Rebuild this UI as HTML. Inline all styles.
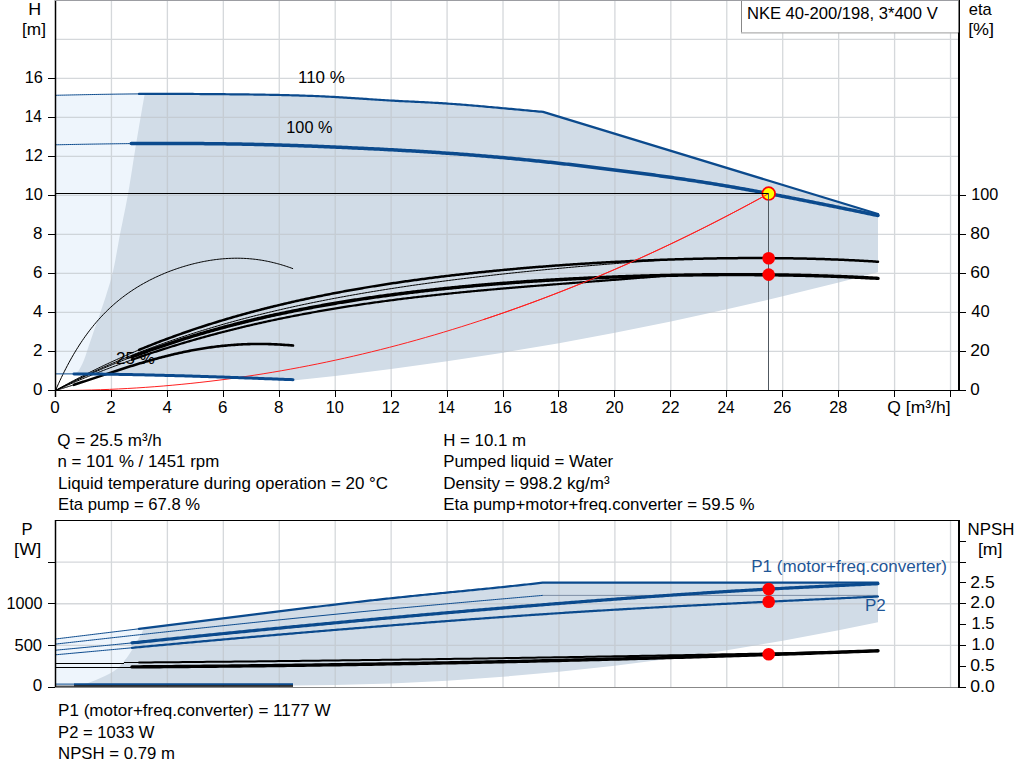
<!DOCTYPE html>
<html><head><meta charset="utf-8"><style>
html,body{margin:0;padding:0;background:#fff;width:1024px;height:781px;overflow:hidden}
svg{display:block}
</style></head><body>
<svg width="1024" height="781" viewBox="0 0 1024 781">
<rect width="1024" height="781" fill="#fff"/>
<path d="M55.50,95.30 L55.50,95.30 L57.47,95.26 L59.44,95.21 L61.41,95.17 L63.38,95.13 L65.34,95.08 L67.31,95.04 L69.28,95.00 L71.25,94.96 L73.22,94.91 L75.19,94.87 L77.16,94.83 L79.12,94.79 L81.09,94.75 L83.06,94.71 L85.03,94.67 L87.00,94.63 L88.97,94.59 L90.94,94.55 L92.91,94.52 L94.88,94.48 L96.84,94.44 L98.81,94.41 L100.78,94.37 L102.75,94.34 L104.72,94.31 L106.69,94.28 L108.66,94.24 L110.62,94.21 L112.59,94.18 L114.56,94.16 L116.53,94.13 L118.50,94.10 L120.47,94.08 L122.44,94.05 L124.41,94.03 L126.38,94.01 L128.34,93.99 L130.31,93.97 L132.28,93.95 L134.25,93.93 L136.22,93.92 L138.19,93.91 L140.16,93.89 L142.12,93.88 L144.09,93.87 L146.06,93.86 L148.03,93.86 L150.00,93.85 L150.00,374.00 L55.50,374.00 Z" fill="#eef5fc"/>
<path d="M144.50,93.87 L146.49,93.86 L148.49,93.86 L150.48,93.85 L152.47,93.85 L154.47,93.84 L156.46,93.84 L158.45,93.84 L160.44,93.84 L162.44,93.84 L164.43,93.85 L166.42,93.85 L168.42,93.85 L170.41,93.86 L172.40,93.87 L174.40,93.87 L176.39,93.88 L178.38,93.89 L180.37,93.90 L182.37,93.91 L184.36,93.92 L186.35,93.93 L188.35,93.94 L190.34,93.96 L192.33,93.97 L194.32,93.98 L196.32,94.00 L198.31,94.01 L200.30,94.03 L202.30,94.04 L204.29,94.06 L206.28,94.07 L208.28,94.09 L210.27,94.10 L212.26,94.12 L214.25,94.13 L216.25,94.15 L218.24,94.17 L220.23,94.18 L222.23,94.20 L224.22,94.22 L226.21,94.24 L228.21,94.25 L230.20,94.27 L232.19,94.29 L234.19,94.31 L236.18,94.33 L238.17,94.35 L240.16,94.37 L242.16,94.40 L244.15,94.42 L246.14,94.44 L248.14,94.47 L250.13,94.49 L252.12,94.52 L254.12,94.55 L256.11,94.57 L258.10,94.60 L260.09,94.63 L262.09,94.66 L264.08,94.70 L266.07,94.73 L268.07,94.76 L270.06,94.80 L272.05,94.84 L274.05,94.88 L276.04,94.92 L278.03,94.96 L280.02,95.00 L282.02,95.04 L284.01,95.09 L286.00,95.14 L288.00,95.19 L289.99,95.24 L291.98,95.29 L293.98,95.35 L295.97,95.40 L297.96,95.46 L299.95,95.52 L301.95,95.58 L303.94,95.65 L305.93,95.72 L307.93,95.79 L309.92,95.86 L311.91,95.93 L313.90,96.01 L315.90,96.09 L317.89,96.17 L319.88,96.26 L321.88,96.34 L323.87,96.44 L325.86,96.53 L327.86,96.63 L329.85,96.73 L331.84,96.83 L333.84,96.94 L335.83,97.05 L337.82,97.16 L339.81,97.28 L341.81,97.39 L343.80,97.52 L345.79,97.64 L347.79,97.77 L349.78,97.89 L351.77,98.02 L353.76,98.15 L355.76,98.29 L357.75,98.42 L359.74,98.55 L361.74,98.69 L363.73,98.82 L365.72,98.95 L367.72,99.09 L369.71,99.22 L371.70,99.35 L373.70,99.49 L375.69,99.62 L377.68,99.75 L379.67,99.87 L381.67,100.00 L383.66,100.12 L385.65,100.24 L387.65,100.36 L389.64,100.48 L391.63,100.59 L393.62,100.70 L395.62,100.81 L397.61,100.91 L399.60,101.02 L401.60,101.12 L403.59,101.22 L405.58,101.32 L407.58,101.41 L409.57,101.51 L411.56,101.61 L413.56,101.70 L415.55,101.80 L417.54,101.90 L419.53,102.00 L421.53,102.09 L423.52,102.19 L425.51,102.29 L427.51,102.40 L429.50,102.50 L431.49,102.61 L433.49,102.72 L435.48,102.83 L437.47,102.95 L439.46,103.07 L441.46,103.19 L443.45,103.32 L445.44,103.45 L447.44,103.58 L449.43,103.72 L451.42,103.86 L453.42,104.00 L455.41,104.15 L457.40,104.30 L459.39,104.45 L461.39,104.60 L463.38,104.76 L465.37,104.92 L467.37,105.08 L469.36,105.24 L471.35,105.41 L473.35,105.58 L475.34,105.75 L477.33,105.92 L479.32,106.09 L481.32,106.26 L483.31,106.44 L485.30,106.61 L487.30,106.79 L489.29,106.97 L491.28,107.15 L493.28,107.33 L495.27,107.51 L497.26,107.69 L499.25,107.88 L501.25,108.06 L503.24,108.24 L505.23,108.42 L507.23,108.61 L509.22,108.79 L511.21,108.97 L513.21,109.15 L515.20,109.34 L517.19,109.52 L519.18,109.70 L521.18,109.89 L523.17,110.07 L525.16,110.25 L527.16,110.43 L529.15,110.62 L531.14,110.80 L533.13,110.98 L535.13,111.17 L537.12,111.35 L539.11,111.53 L541.11,111.72 L543.10,111.90 L878.00,214.00 L878.00,272.13 L878.00,272.13 L838.66,282.44 L782.72,296.34 L726.78,309.36 L670.84,321.51 L614.90,332.77 L558.96,343.15 L503.02,352.66 L447.08,361.28 L391.14,369.02 L335.20,375.88 L293.00,380.48 L293.00,379.70 L291.01,379.62 L289.02,379.55 L287.03,379.47 L285.04,379.39 L283.05,379.32 L281.05,379.24 L279.06,379.16 L277.07,379.09 L275.08,379.01 L273.09,378.93 L271.10,378.86 L269.11,378.78 L267.12,378.70 L265.13,378.63 L263.14,378.55 L261.15,378.48 L259.15,378.40 L257.16,378.33 L255.17,378.25 L253.18,378.18 L251.19,378.11 L249.20,378.03 L247.21,377.96 L245.22,377.89 L243.23,377.81 L241.24,377.74 L239.25,377.67 L237.25,377.60 L235.26,377.53 L233.27,377.46 L231.28,377.39 L229.29,377.32 L227.30,377.25 L225.31,377.18 L223.32,377.11 L221.33,377.04 L219.34,376.98 L217.35,376.91 L215.35,376.85 L213.36,376.78 L211.37,376.72 L209.38,376.65 L207.39,376.59 L205.40,376.52 L203.41,376.46 L201.42,376.40 L199.43,376.34 L197.44,376.28 L195.45,376.22 L193.45,376.16 L191.46,376.10 L189.47,376.04 L187.48,375.98 L185.49,375.92 L183.50,375.87 L181.51,375.81 L179.52,375.76 L177.53,375.70 L175.54,375.65 L173.55,375.59 L171.55,375.54 L169.56,375.49 L167.57,375.43 L165.58,375.38 L163.59,375.33 L161.60,375.28 L159.61,375.23 L157.62,375.18 L155.63,375.13 L153.64,375.09 L151.65,375.04 L149.65,374.99 L147.66,374.95 L145.67,374.90 L143.68,374.86 L141.69,374.81 L139.70,374.77 L137.71,374.73 L135.72,374.68 L133.73,374.64 L131.74,374.60 L129.75,374.56 L127.75,374.52 L125.76,374.49 L123.77,374.45 L121.78,374.41 L119.79,374.38 L117.80,374.34 L115.81,374.31 L113.82,374.28 L111.83,374.25 L109.84,374.22 L107.85,374.19 L105.85,374.16 L103.86,374.14 L101.87,374.11 L99.88,374.09 L97.89,374.06 L95.90,374.04 L93.91,374.02 L91.92,374.00 L89.93,373.99 L87.94,373.97 L85.95,373.96 L83.95,373.94 L81.96,373.93 L79.97,373.92 L77.98,373.91 L75.99,373.91 L74.00,373.90 L74.50,374.20 L78.61,370.65 L80.73,367.10 L82.50,363.56 L84.00,360.01 L85.29,356.46 L86.46,352.91 L87.66,349.36 L88.85,345.82 L90.04,342.27 L91.23,338.72 L92.44,335.17 L93.67,331.62 L94.92,328.07 L96.18,324.53 L97.45,320.98 L98.70,317.43 L99.93,313.88 L101.14,310.33 L102.33,306.79 L103.52,303.24 L104.69,299.69 L105.83,296.14 L106.94,292.59 L108.05,289.05 L109.15,285.50 L110.23,281.95 L111.24,278.40 L112.17,274.85 L113.01,271.31 L113.79,267.76 L114.52,264.21 L115.22,260.66 L115.89,257.11 L116.53,253.56 L117.17,250.02 L117.80,246.47 L118.43,242.92 L119.08,239.37 L119.74,235.82 L120.44,232.28 L121.14,228.73 L121.86,225.18 L122.58,221.63 L123.30,218.08 L124.03,214.54 L124.75,210.99 L125.46,207.44 L126.15,203.89 L126.84,200.34 L127.50,196.79 L128.15,193.25 L128.77,189.70 L129.37,186.15 L129.96,182.60 L130.54,179.05 L131.10,175.51 L131.66,171.96 L132.22,168.41 L132.77,164.86 L133.32,161.31 L133.87,157.77 L134.43,154.22 L135.00,150.67 L135.57,147.12 L136.15,143.57 L136.75,140.03 L137.34,136.48 L137.94,132.93 L138.54,129.38 L139.14,125.83 L139.75,122.28 L140.36,118.74 L140.97,115.19 L141.59,111.64 L142.20,108.09 L142.82,104.54 L143.45,101.00 L144.07,97.45 L144.70,93.90 Z" fill="#d1dce7"/>
<path d="M111.44,1 V390 M167.38,1 V390 M223.32,1 V390 M279.26,1 V390 M335.20,1 V390 M391.14,1 V390 M447.08,1 V390 M503.02,1 V390 M558.96,1 V390 M614.90,1 V390 M670.84,1 V390 M726.78,1 V390 M782.72,1 V390 M838.66,1 V390 M894.60,1 V390 M950.54,1 V390 M56,351.30 H958 M56,312.30 H958 M56,273.30 H958 M56,234.30 H958 M56,195.30 H958 M56,156.30 H958 M56,117.30 H958 M56,78.30 H958 M56,39.30 H958" stroke="#bfc3c7" stroke-width="1.3" fill="none" opacity="0.65"/>
<path d="M55.50,390.50 L64.53,390.47 L73.56,390.37 L82.58,390.22 L91.61,390.00 L100.64,389.71 L109.67,389.36 L118.70,388.95 L127.73,388.48 L136.75,387.94 L145.78,387.34 L154.81,386.68 L163.84,385.96 L172.87,385.17 L181.90,384.31 L190.92,383.40 L199.95,382.42 L208.98,381.38 L218.01,380.28 L227.04,379.11 L236.07,377.88 L245.09,376.58 L254.12,375.23 L263.15,373.81 L272.18,372.32 L281.21,370.78 L290.24,369.17 L299.26,367.49 L308.29,365.76 L317.32,363.96 L326.35,362.10 L335.38,360.17 L344.41,358.19 L353.43,356.13 L362.46,354.02 L371.49,351.84 L380.52,349.60 L389.55,347.30 L398.58,344.93 L407.60,342.50 L416.63,340.01 L425.66,337.45 L434.69,334.83 L443.72,332.15 L452.74,329.40 L461.77,326.60 L470.80,323.72 L479.83,320.79 L488.86,317.79 L497.89,314.73 L506.91,311.61 L515.94,308.42 L524.97,305.17 L534.00,301.86 L543.03,298.48 L552.06,295.04 L561.08,291.54 L570.11,287.97 L579.14,284.34 L588.17,280.65 L597.20,276.89 L606.23,273.07 L615.25,269.19 L624.28,265.25 L633.31,261.24 L642.34,257.17 L651.37,253.04 L660.40,248.84 L669.42,244.58 L678.45,240.26 L687.48,235.87 L696.51,231.42 L705.54,226.91 L714.57,222.33 L723.59,217.69 L732.62,212.99 L741.65,208.22 L750.68,203.40 L759.71,198.50 L768.74,193.55" stroke="#ff2020" stroke-width="1" fill="none"/>
<path d="M55.50,390.50 L56.99,387.09 L58.48,383.76 L59.98,380.52 L61.47,377.35 L62.96,374.27 L64.45,371.26 L65.94,368.33 L67.43,365.47 L68.93,362.68 L70.42,359.96 L71.91,357.31 L73.40,354.73 L74.89,352.21 L76.39,349.75 L77.88,347.36 L79.37,345.02 L80.86,342.74 L82.35,340.52 L83.84,338.35 L85.34,336.24 L86.83,334.18 L88.32,332.17 L89.81,330.21 L91.30,328.30 L92.80,326.43 L94.29,324.61 L95.78,322.84 L97.27,321.11 L98.76,319.42 L100.25,317.77 L101.75,316.16 L103.24,314.59 L104.73,313.05 L106.22,311.56 L107.71,310.10 L109.21,308.67 L110.70,307.28 L112.19,305.92 L113.68,304.59 L115.17,303.29 L116.66,302.02 L118.16,300.78 L119.65,299.57 L121.14,298.39 L122.63,297.24 L124.12,296.11 L125.62,295.00 L127.11,293.92 L128.60,292.87 L130.09,291.84 L131.58,290.83 L133.07,289.84 L134.57,288.88 L136.06,287.93 L137.55,287.01 L139.04,286.11 L140.53,285.22 L142.03,284.36 L143.52,283.51 L145.01,282.68 L146.50,281.87 L147.99,281.08 L149.48,280.30 L150.98,279.54 L152.47,278.80 L153.96,278.07 L155.45,277.36 L156.94,276.66 L158.44,275.98 L159.93,275.31 L161.42,274.66 L162.91,274.02 L164.40,273.40 L165.89,272.78 L167.39,272.19 L168.88,271.60 L170.37,271.03 L171.86,270.47 L173.35,269.93 L174.85,269.40 L176.34,268.88 L177.83,268.37 L179.32,267.88 L180.81,267.39 L182.31,266.92 L183.80,266.47 L185.29,266.02 L186.78,265.59 L188.27,265.17 L189.76,264.76 L191.26,264.36 L192.75,263.97 L194.24,263.60 L195.73,263.24 L197.22,262.89 L198.72,262.55 L200.21,262.23 L201.70,261.92 L203.19,261.61 L204.68,261.33 L206.17,261.05 L207.67,260.79 L209.16,260.53 L210.65,260.30 L212.14,260.07 L213.63,259.85 L215.13,259.65 L216.62,259.46 L218.11,259.29 L219.60,259.13 L221.09,258.98 L222.58,258.84 L224.08,258.72 L225.57,258.61 L227.06,258.51 L228.55,258.43 L230.04,258.36 L231.54,258.30 L233.03,258.26 L234.52,258.23 L236.01,258.21 L237.50,258.21 L238.99,258.23 L240.49,258.26 L241.98,258.30 L243.47,258.35 L244.96,258.43 L246.45,258.51 L247.95,258.61 L249.44,258.73 L250.93,258.86 L252.42,259.00 L253.91,259.16 L255.40,259.33 L256.90,259.52 L258.39,259.73 L259.88,259.95 L261.37,260.18 L262.86,260.43 L264.36,260.70 L265.85,260.98 L267.34,261.27 L268.83,261.58 L270.32,261.91 L271.81,262.25 L273.31,262.60 L274.80,262.97 L276.29,263.36 L277.78,263.76 L279.27,264.17 L280.77,264.60 L282.26,265.05 L283.75,265.51 L285.24,265.98 L286.73,266.47 L288.22,266.97 L289.72,267.48 L291.21,268.01 L292.70,268.56" stroke="#000" stroke-width="1" fill="none" stroke-linejoin="round" stroke-linecap="round"/>
<path d="M55.50,390.50 L56.92,390.08 L58.35,389.66 L59.77,389.23 L61.19,388.80 L62.62,388.37 L64.04,387.93 L65.46,387.49 L66.88,387.05 L68.31,386.60 L69.73,386.15 L71.15,385.70 L72.58,385.24 L74.00,384.79" stroke="#000" stroke-width="1" fill="none" stroke-linejoin="round" stroke-linecap="round"/>
<path d="M74.00,384.79 L75.50,384.30 L77.00,383.82 L78.50,383.33 L80.00,382.84 L81.50,382.35 L83.00,381.86 L84.50,381.36 L86.00,380.87 L87.50,380.37 L89.00,379.87 L90.50,379.37 L92.00,378.87 L93.50,378.37 L95.00,377.87 L96.50,377.37 L98.00,376.87 L99.50,376.37 L101.00,375.87 L102.50,375.37 L104.00,374.87 L105.50,374.38 L107.00,373.88 L108.50,373.38 L110.00,372.88 L111.50,372.39 L113.00,371.89 L114.50,371.40 L116.00,370.91 L117.50,370.42 L119.00,369.93 L120.50,369.45 L122.00,368.96 L123.50,368.48 L125.00,368.00 L126.50,367.53 L128.00,367.05 L129.50,366.58 L131.00,366.11 L132.50,365.64 L134.00,365.18 L135.50,364.72 L137.00,364.26 L138.50,363.81 L140.00,363.36 L141.50,362.91 L143.00,362.46 L144.50,362.02 L146.00,361.59 L147.50,361.15 L149.00,360.72 L150.50,360.30 L152.00,359.88 L153.50,359.46 L155.00,359.05 L156.50,358.64 L158.00,358.23 L159.50,357.83 L161.00,357.44 L162.50,357.05 L164.00,356.66 L165.50,356.28 L167.00,355.90 L168.50,355.53 L170.00,355.16 L171.50,354.80 L173.00,354.45 L174.50,354.10 L176.00,353.75 L177.50,353.41 L179.00,353.07 L180.50,352.74 L182.00,352.42 L183.50,352.10 L185.00,351.79 L186.50,351.48 L188.00,351.18 L189.50,350.88 L191.00,350.59 L192.50,350.30 L194.00,350.02 L195.50,349.75 L197.00,349.48 L198.50,349.22 L200.00,348.97 L201.50,348.72 L203.00,348.48 L204.50,348.24 L206.00,348.01 L207.50,347.78 L209.00,347.57 L210.50,347.35 L212.00,347.15 L213.50,346.95 L215.00,346.76 L216.50,346.57 L218.00,346.39 L219.50,346.22 L221.00,346.05 L222.50,345.89 L224.00,345.73 L225.50,345.59 L227.00,345.44 L228.50,345.31 L230.00,345.18 L231.50,345.06 L233.00,344.94 L234.50,344.83 L236.00,344.73 L237.50,344.64 L239.00,344.55 L240.50,344.46 L242.00,344.39 L243.50,344.32 L245.00,344.25 L246.50,344.20 L248.00,344.15 L249.50,344.10 L251.00,344.07 L252.50,344.03 L254.00,344.01 L255.50,343.99 L257.00,343.98 L258.50,343.97 L260.00,343.97 L261.50,343.98 L263.00,344.00 L264.50,344.01 L266.00,344.04 L267.50,344.07 L269.00,344.11 L270.50,344.16 L272.00,344.21 L273.50,344.26 L275.00,344.33 L276.50,344.39 L278.00,344.47 L279.50,344.55 L281.00,344.64 L282.50,344.73 L284.00,344.83 L285.50,344.93 L287.00,345.04 L288.50,345.15 L290.00,345.27 L291.50,345.40 L293.00,345.53" stroke="#000" stroke-width="2.6" fill="none" stroke-linejoin="round" stroke-linecap="round"/>
<path d="M55.50,390.50 L57.00,389.71 L58.50,388.92 L60.00,388.14 L61.50,387.36 L63.00,386.59 L64.50,385.82 L66.00,385.06 L67.50,384.30 L69.00,383.54 L70.50,382.79 L72.00,382.04 L73.50,381.29 L75.00,380.55 L76.50,379.81 L78.00,379.08 L79.50,378.35 L81.00,377.63 L82.50,376.91 L84.00,376.19 L85.50,375.48 L87.00,374.77 L88.50,374.06 L90.00,373.36 L91.50,372.67 L93.00,371.97 L94.50,371.28 L96.00,370.60 L97.50,369.91 L99.00,369.23 L100.50,368.56 L102.00,367.89 L103.50,367.22 L105.00,366.56 L106.50,365.90 L108.00,365.24 L109.50,364.59 L111.00,363.94 L112.50,363.29 L114.00,362.65 L115.50,362.01 L117.00,361.37 L118.50,360.74 L120.00,360.11 L121.50,359.49 L123.00,358.87 L124.50,358.25 L126.00,357.64 L127.50,357.02 L129.00,356.42 L130.50,355.81 L132.00,355.21 L133.50,354.61 L135.00,354.02 L136.50,353.43 L138.00,352.84 L139.50,352.25 L141.00,351.67 L142.50,351.10 L144.00,350.52 L145.50,349.95 L147.00,349.38 L148.50,348.81 L150.00,348.25 L151.50,347.69 L153.00,347.14 L154.50,346.58 L156.00,346.03 L157.50,345.49 L159.00,344.94 L160.50,344.40 L162.00,343.87 L163.50,343.33 L165.00,342.80 L166.50,342.27 L168.00,341.74 L169.50,341.22 L171.00,340.70 L172.50,340.18 L174.00,339.67 L175.50,339.16 L177.00,338.65 L178.50,338.14 L180.00,337.64 L181.50,337.14 L183.00,336.64 L184.50,336.15 L186.00,335.66 L187.50,335.17 L189.00,334.68 L190.50,334.20 L192.00,333.72 L193.50,333.24 L195.00,332.77 L196.50,332.29 L198.00,331.82 L199.50,331.36 L201.00,330.89 L202.50,330.43 L204.00,329.97 L205.50,329.51 L207.00,329.06 L208.50,328.60 L210.00,328.16 L211.50,327.71 L213.00,327.26 L214.50,326.82 L216.00,326.38 L217.50,325.95 L219.00,325.51 L220.50,325.08 L222.00,324.65 L223.50,324.22 L225.00,323.80 L226.50,323.37 L228.00,322.95 L229.50,322.54 L231.00,322.12 L232.50,321.71 L234.00,321.30 L235.50,320.89 L237.00,320.48 L238.50,320.08 L240.00,319.67 L241.50,319.28 L243.00,318.88 L244.50,318.48 L246.00,318.09 L247.50,317.70 L249.00,317.31 L250.50,316.92 L252.00,316.54 L253.50,316.16 L255.00,315.78 L256.50,315.40 L258.00,315.02 L259.50,314.65 L261.00,314.28 L262.50,313.91 L264.00,313.54 L265.50,313.18 L267.00,312.81 L268.50,312.45 L270.00,312.09 L271.50,311.73 L273.00,311.38 L274.50,311.02 L276.00,310.67 L277.50,310.32 L279.00,309.97 L280.50,309.63 L282.00,309.28 L283.50,308.94 L285.00,308.60 L286.50,308.26 L288.00,307.93 L289.50,307.59 L291.00,307.26 L292.50,306.93 L294.00,306.60 L295.50,306.27 L297.00,305.95 L298.50,305.62 L300.00,305.30 L301.50,304.98 L303.00,304.66 L304.50,304.34 L306.00,304.03 L307.50,303.72 L309.00,303.40 L310.50,303.09 L312.00,302.79 L313.50,302.48 L315.00,302.17 L316.50,301.87 L318.00,301.57 L319.50,301.27 L321.00,300.97 L322.50,300.67 L324.00,300.38 L325.50,300.08 L327.00,299.79 L328.50,299.50 L330.00,299.21 L331.50,298.92 L333.00,298.64 L334.50,298.35 L336.00,298.07 L337.50,297.79 L339.00,297.51 L340.50,297.23 L342.00,296.95 L343.50,296.68 L345.00,296.40 L346.50,296.13 L348.00,295.86 L349.50,295.59 L351.00,295.32 L352.50,295.05 L354.00,294.79 L355.50,294.52 L357.00,294.26 L358.50,294.00 L360.00,293.74 L361.50,293.48 L363.00,293.22 L364.50,292.97 L366.00,292.71 L367.50,292.46 L369.00,292.21 L370.50,291.95 L372.00,291.70 L373.50,291.46 L375.00,291.21 L376.50,290.96 L378.00,290.72 L379.50,290.48 L381.00,290.23 L382.50,289.99 L384.00,289.75 L385.50,289.51 L387.00,289.28 L388.50,289.04 L390.00,288.81 L391.50,288.57 L393.00,288.34 L394.50,288.11 L396.00,287.88 L397.50,287.65 L399.00,287.42 L400.50,287.20 L402.00,286.97 L403.50,286.75 L405.00,286.52 L406.50,286.30 L408.00,286.08 L409.50,285.86 L411.00,285.64 L412.50,285.42 L414.00,285.20 L415.50,284.99 L417.00,284.77 L418.50,284.56 L420.00,284.35 L421.50,284.14 L423.00,283.93 L424.50,283.72 L426.00,283.51 L427.50,283.30 L429.00,283.09 L430.50,282.89 L432.00,282.68 L433.50,282.48 L435.00,282.28 L436.50,282.07 L438.00,281.87 L439.50,281.67 L441.00,281.48 L442.50,281.28 L444.00,281.08 L445.50,280.88 L447.00,280.69 L448.50,280.50 L450.00,280.30 L451.50,280.11 L453.00,279.92 L454.50,279.73 L456.00,279.54 L457.50,279.35 L459.00,279.16 L460.50,278.97 L462.00,278.79 L463.50,278.60 L465.00,278.42 L466.50,278.23 L468.00,278.05 L469.50,277.87 L471.00,277.69 L472.50,277.51 L474.00,277.33 L475.50,277.15 L477.00,276.97 L478.50,276.80 L480.00,276.62 L481.50,276.44 L483.00,276.27 L484.50,276.10 L486.00,275.92 L487.50,275.75 L489.00,275.58 L490.50,275.41 L492.00,275.24 L493.50,275.07 L495.00,274.90 L496.50,274.73 L498.00,274.57 L499.50,274.40 L501.00,274.23 L502.50,274.07 L504.00,273.91 L505.50,273.74 L507.00,273.58 L508.50,273.42 L510.00,273.26 L511.50,273.10 L513.00,272.94 L514.50,272.78 L516.00,272.62 L517.50,272.46 L519.00,272.31 L520.50,272.15 L522.00,271.99 L523.50,271.84 L525.00,271.69 L526.50,271.53 L528.00,271.38 L529.50,271.23 L531.00,271.08 L532.50,270.93 L534.00,270.78 L535.50,270.63 L537.00,270.48 L538.50,270.33 L540.00,270.18 L541.50,270.04 L543.00,269.89 L544.50,269.74 L546.00,269.60 L547.50,269.45 L549.00,269.31 L550.50,269.17 L552.00,269.03 L553.50,268.88 L555.00,268.74 L556.50,268.60 L558.00,268.46 L559.50,268.32 L561.00,268.19 L562.50,268.05 L564.00,267.91 L565.50,267.77 L567.00,267.64 L568.50,267.50 L570.00,267.37 L571.50,267.23 L573.00,267.10 L574.50,266.97 L576.00,266.84 L577.50,266.70 L579.00,266.57 L580.50,266.44 L582.00,266.31 L583.50,266.18 L585.00,266.05 L586.50,265.93 L588.00,265.80 L589.50,265.67 L591.00,265.54 L592.50,265.42 L594.00,265.29 L595.50,265.17 L597.00,265.05 L598.50,264.92 L600.00,264.80 L601.50,264.68 L603.00,264.56 L604.50,264.43 L606.00,264.31 L607.50,264.19 L609.00,264.07 L610.50,263.96 L612.00,263.84 L613.50,263.72 L615.00,263.60 L616.50,263.49 L618.00,263.37 L619.50,263.26 L621.00,263.14 L622.50,263.03 L624.00,262.91 L625.50,262.80 L627.00,262.69 L628.50,262.58 L630.00,262.47 L631.50,262.36 L633.00,262.25 L634.50,262.14 L636.00,262.03 L637.50,261.92 L639.00,261.81 L640.50,261.71 L642.00,261.60 L643.50,261.49 L645.00,261.39 L646.50,261.28 L648.00,261.18 L649.50,261.08 L651.00,260.97 L652.50,260.87 L654.00,260.77 L655.50,260.67 L657.00,260.57 L658.50,260.47 L660.00,260.37" stroke="#000" stroke-width="1" fill="none" stroke-linejoin="round" stroke-linecap="round"/>
<path d="M55.50,390.50 L57.00,389.83 L58.50,389.16 L60.00,388.49 L61.50,387.82 L63.00,387.16 L64.50,386.50 L66.00,385.85 L67.50,385.19 L69.00,384.54 L70.50,383.90 L72.00,383.25 L73.50,382.61 L75.00,381.97 L76.50,381.34 L78.00,380.71 L79.50,380.08 L81.00,379.45 L82.50,378.82 L84.00,378.20 L85.50,377.58 L87.00,376.97 L88.50,376.36 L90.00,375.75 L91.50,375.14 L93.00,374.53 L94.50,373.93 L96.00,373.33 L97.50,372.74 L99.00,372.14 L100.50,371.55 L102.00,370.96 L103.50,370.38 L105.00,369.80 L106.50,369.22 L108.00,368.64 L109.50,368.07 L111.00,367.49 L112.50,366.93 L114.00,366.36 L115.50,365.80 L117.00,365.24 L118.50,364.68 L120.00,364.12 L121.50,363.57 L123.00,363.02 L124.50,362.47 L126.00,361.93 L127.50,361.39 L129.00,360.85 L130.50,360.31 L132.00,359.77" stroke="#000" stroke-width="1" fill="none" stroke-linejoin="round" stroke-linecap="round"/>
<path d="M132.00,359.77 L133.50,359.24 L135.00,358.71 L136.50,358.19 L138.00,357.66 L139.50,357.14 L141.00,356.62 L142.50,356.11 L144.00,355.59 L145.50,355.08 L147.00,354.58 L148.50,354.07 L150.00,353.57 L151.50,353.07 L153.00,352.57 L154.50,352.07 L156.00,351.58 L157.50,351.09 L159.00,350.60 L160.50,350.11 L162.00,349.63 L163.50,349.15 L165.00,348.67 L166.50,348.19 L168.00,347.72 L169.50,347.25 L171.00,346.78 L172.50,346.31 L174.00,345.85 L175.50,345.39 L177.00,344.93 L178.50,344.47 L180.00,344.02 L181.50,343.57 L183.00,343.12 L184.50,342.67 L186.00,342.23 L187.50,341.78 L189.00,341.34 L190.50,340.91 L192.00,340.47 L193.50,340.04 L195.00,339.61 L196.50,339.18 L198.00,338.75 L199.50,338.33 L201.00,337.91 L202.50,337.49 L204.00,337.07 L205.50,336.66 L207.00,336.25 L208.50,335.84 L210.00,335.43 L211.50,335.02 L213.00,334.62 L214.50,334.22 L216.00,333.82 L217.50,333.42 L219.00,333.03 L220.50,332.63 L222.00,332.24 L223.50,331.86 L225.00,331.47 L226.50,331.09 L228.00,330.70 L229.50,330.33 L231.00,329.95 L232.50,329.57 L234.00,329.20 L235.50,328.83 L237.00,328.46 L238.50,328.09 L240.00,327.73 L241.50,327.37 L243.00,327.01 L244.50,326.65 L246.00,326.29 L247.50,325.94 L249.00,325.58 L250.50,325.23 L252.00,324.89 L253.50,324.54 L255.00,324.19 L256.50,323.85 L258.00,323.51 L259.50,323.17 L261.00,322.84 L262.50,322.50 L264.00,322.17 L265.50,321.84 L267.00,321.51 L268.50,321.19 L270.00,320.86 L271.50,320.54 L273.00,320.22 L274.50,319.90 L276.00,319.58 L277.50,319.27 L279.00,318.95 L280.50,318.64 L282.00,318.33 L283.50,318.03 L285.00,317.72 L286.50,317.42 L288.00,317.11 L289.50,316.81 L291.00,316.52 L292.50,316.22 L294.00,315.92 L295.50,315.63 L297.00,315.34 L298.50,315.05 L300.00,314.76 L301.50,314.48 L303.00,314.19 L304.50,313.91 L306.00,313.63 L307.50,313.35 L309.00,313.07 L310.50,312.80 L312.00,312.53 L313.50,312.25 L315.00,311.98 L316.50,311.71 L318.00,311.45 L319.50,311.18 L321.00,310.92 L322.50,310.66 L324.00,310.40 L325.50,310.14 L327.00,309.88 L328.50,309.62 L330.00,309.37 L331.50,309.12 L333.00,308.87 L334.50,308.62 L336.00,308.37 L337.50,308.12 L339.00,307.88 L340.50,307.64 L342.00,307.40 L343.50,307.16 L345.00,306.92 L346.50,306.68 L348.00,306.45 L349.50,306.21 L351.00,305.98 L352.50,305.75 L354.00,305.52 L355.50,305.29 L357.00,305.06 L358.50,304.84 L360.00,304.62 L361.50,304.39 L363.00,304.17 L364.50,303.95 L366.00,303.73 L367.50,303.52 L369.00,303.30 L370.50,303.09 L372.00,302.88 L373.50,302.66 L375.00,302.46 L376.50,302.25 L378.00,302.04 L379.50,301.83 L381.00,301.63 L382.50,301.43 L384.00,301.22 L385.50,301.02 L387.00,300.82 L388.50,300.63 L390.00,300.43 L391.50,300.23 L393.00,300.04 L394.50,299.85 L396.00,299.65 L397.50,299.46 L399.00,299.27 L400.50,299.09 L402.00,298.90 L403.50,298.71 L405.00,298.53 L406.50,298.34 L408.00,298.16 L409.50,297.98 L411.00,297.80 L412.50,297.62 L414.00,297.44 L415.50,297.27 L417.00,297.09 L418.50,296.91 L420.00,296.74 L421.50,296.57 L423.00,296.40 L424.50,296.23 L426.00,296.06 L427.50,295.89 L429.00,295.72 L430.50,295.56 L432.00,295.39 L433.50,295.23 L435.00,295.06 L436.50,294.90 L438.00,294.74 L439.50,294.58 L441.00,294.42 L442.50,294.26 L444.00,294.10 L445.50,293.95 L447.00,293.79 L448.50,293.63 L450.00,293.48 L451.50,293.33 L453.00,293.18 L454.50,293.02 L456.00,292.87 L457.50,292.72 L459.00,292.57 L460.50,292.43 L462.00,292.28 L463.50,292.13 L465.00,291.99 L466.50,291.84 L468.00,291.70 L469.50,291.56 L471.00,291.41 L472.50,291.27 L474.00,291.13 L475.50,290.99 L477.00,290.85 L478.50,290.71 L480.00,290.57 L481.50,290.44 L483.00,290.30 L484.50,290.16 L486.00,290.03 L487.50,289.89 L489.00,289.76 L490.50,289.62 L492.00,289.49 L493.50,289.36 L495.00,289.23 L496.50,289.10 L498.00,288.97 L499.50,288.84 L501.00,288.71 L502.50,288.58 L504.00,288.45 L505.50,288.32 L507.00,288.19 L508.50,288.07 L510.00,287.94 L511.50,287.82 L513.00,287.69 L514.50,287.57 L516.00,287.44 L517.50,287.32 L519.00,287.20 L520.50,287.07 L522.00,286.95 L523.50,286.83 L525.00,286.71 L526.50,286.59 L528.00,286.46 L529.50,286.34 L531.00,286.22 L532.50,286.10 L534.00,285.98 L535.50,285.87 L537.00,285.75 L538.50,285.63 L540.00,285.51 L541.50,285.39 L543.00,285.28 L544.50,285.16 L546.00,285.04 L547.50,284.92 L549.00,284.81 L550.50,284.69 L552.00,284.58 L553.50,284.46 L555.00,284.35 L556.50,284.23 L558.00,284.11 L559.50,284.00 L561.00,283.89 L562.50,283.77 L564.00,283.66 L565.50,283.54 L567.00,283.43 L568.50,283.31 L570.00,283.20 L571.50,283.09 L573.00,282.97 L574.50,282.86 L576.00,282.74 L577.50,282.63 L579.00,282.52 L580.50,282.40 L582.00,282.29 L583.50,282.18 L585.00,282.06 L586.50,281.95 L588.00,281.84 L589.50,281.72 L591.00,281.61 L592.50,281.50 L594.00,281.38 L595.50,281.27 L597.00,281.16 L598.50,281.04 L600.00,280.93 L601.50,280.81 L603.00,280.70 L604.50,280.58 L606.00,280.47 L607.50,280.36 L609.00,280.24 L610.50,280.13 L612.00,280.01 L613.50,279.90 L615.00,279.78 L616.50,279.66 L618.00,279.55 L619.50,279.43 L621.00,279.32 L622.50,279.20 L624.00,279.08 L625.50,278.96 L627.00,278.85 L628.50,278.73 L630.00,278.61 L631.50,278.49 L633.00,278.37 L634.50,278.25 L636.00,278.14 L637.50,278.02 L639.00,277.90 L640.50,277.77 L642.00,277.65 L643.50,277.53 L645.00,277.41 L646.50,277.29 L648.00,277.17 L649.50,277.04 L651.00,276.92 L652.50,276.79 L654.00,276.67 L655.50,276.54 L657.00,276.42 L658.50,276.29 L660.00,276.17" stroke="#000" stroke-width="2.2" fill="none" stroke-linejoin="round" stroke-linecap="round"/>
<path d="M55.50,390.50 L56.99,389.66 L58.48,388.83 L59.97,388.00 L61.46,387.17 L62.96,386.35 L64.45,385.53 L65.94,384.72 L67.43,383.91 L68.92,383.11 L70.41,382.31 L71.90,381.51 L73.39,380.72 L74.88,379.94 L76.38,379.16 L77.87,378.38 L79.36,377.60 L80.85,376.83 L82.34,376.07 L83.83,375.31 L85.32,374.55 L86.81,373.80 L88.30,373.05 L89.79,372.30 L91.29,371.56 L92.78,370.83 L94.27,370.09 L95.76,369.37 L97.25,368.64 L98.74,367.92 L100.23,367.20 L101.72,366.49 L103.21,365.78 L104.71,365.08 L106.20,364.38 L107.69,363.68 L109.18,362.99 L110.67,362.30 L112.16,361.61 L113.65,360.93 L115.14,360.25 L116.63,359.58 L118.12,358.91 L119.62,358.24 L121.11,357.58 L122.60,356.92 L124.09,356.26 L125.58,355.61 L127.07,354.96 L128.56,354.31 L130.05,353.67 L131.54,353.04 L133.04,352.40 L134.53,351.77 L136.02,351.14 L137.51,350.52 L139.00,349.90" stroke="#000" stroke-width="1" fill="none" stroke-linejoin="round" stroke-linecap="round"/>
<path d="M139.00,349.90 L140.50,349.28 L142.00,348.66 L143.50,348.05 L145.00,347.44 L146.49,346.84 L147.99,346.23 L149.49,345.64 L150.99,345.04 L152.49,344.45 L153.99,343.86 L155.49,343.27 L156.99,342.69 L158.49,342.11 L159.99,341.54 L161.48,340.96 L162.98,340.40 L164.48,339.83 L165.98,339.27 L167.48,338.71 L168.98,338.15 L170.48,337.60 L171.98,337.05 L173.48,336.50 L174.98,335.96 L176.47,335.42 L177.97,334.88 L179.47,334.35 L180.97,333.82 L182.47,333.29 L183.97,332.77 L185.47,332.24 L186.97,331.73 L188.47,331.21 L189.97,330.70 L191.46,330.19 L192.96,329.68 L194.46,329.18 L195.96,328.68 L197.46,328.18 L198.96,327.68 L200.46,327.19 L201.96,326.70 L203.46,326.22 L204.96,325.73 L206.45,325.25 L207.95,324.77 L209.45,324.30 L210.95,323.83 L212.45,323.36 L213.95,322.89 L215.45,322.43 L216.95,321.97 L218.45,321.51 L219.95,321.05 L221.44,320.60 L222.94,320.15 L224.44,319.70 L225.94,319.25 L227.44,318.81 L228.94,318.37 L230.44,317.93 L231.94,317.50 L233.44,317.07 L234.94,316.64 L236.43,316.21 L237.93,315.79 L239.43,315.36 L240.93,314.94 L242.43,314.53 L243.93,314.11 L245.43,313.70 L246.93,313.29 L248.43,312.88 L249.92,312.48 L251.42,312.08 L252.92,311.68 L254.42,311.28 L255.92,310.88 L257.42,310.49 L258.92,310.10 L260.42,309.71 L261.92,309.33 L263.42,308.94 L264.91,308.56 L266.41,308.18 L267.91,307.81 L269.41,307.43 L270.91,307.06 L272.41,306.69 L273.91,306.32 L275.41,305.96 L276.91,305.59 L278.41,305.23 L279.90,304.87 L281.40,304.52 L282.90,304.16 L284.40,303.81 L285.90,303.46 L287.40,303.11 L288.90,302.76 L290.40,302.42 L291.90,302.08 L293.40,301.74 L294.89,301.40 L296.39,301.06 L297.89,300.73 L299.39,300.40 L300.89,300.07 L302.39,299.74 L303.89,299.42 L305.39,299.09 L306.89,298.77 L308.39,298.45 L309.88,298.13 L311.38,297.82 L312.88,297.50 L314.38,297.19 L315.88,296.88 L317.38,296.57 L318.88,296.26 L320.38,295.96 L321.88,295.66 L323.38,295.36 L324.87,295.06 L326.37,294.76 L327.87,294.46 L329.37,294.17 L330.87,293.88 L332.37,293.59 L333.87,293.30 L335.37,293.01 L336.87,292.73 L338.37,292.45 L339.86,292.16 L341.36,291.88 L342.86,291.61 L344.36,291.33 L345.86,291.06 L347.36,290.78 L348.86,290.51 L350.36,290.24 L351.86,289.97 L353.35,289.71 L354.85,289.44 L356.35,289.18 L357.85,288.92 L359.35,288.66 L360.85,288.40 L362.35,288.15 L363.85,287.89 L365.35,287.64 L366.85,287.39 L368.34,287.13 L369.84,286.89 L371.34,286.64 L372.84,286.39 L374.34,286.15 L375.84,285.91 L377.34,285.67 L378.84,285.43 L380.34,285.19 L381.84,284.95 L383.33,284.72 L384.83,284.48 L386.33,284.25 L387.83,284.02 L389.33,283.79 L390.83,283.56 L392.33,283.33 L393.83,283.11 L395.33,282.89 L396.83,282.66 L398.32,282.44 L399.82,282.22 L401.32,282.00 L402.82,281.79 L404.32,281.57 L405.82,281.36 L407.32,281.14 L408.82,280.93 L410.32,280.72 L411.82,280.51 L413.31,280.31 L414.81,280.10 L416.31,279.89 L417.81,279.69 L419.31,279.49 L420.81,279.29 L422.31,279.09 L423.81,278.89 L425.31,278.69 L426.81,278.49 L428.30,278.30 L429.80,278.10 L431.30,277.91 L432.80,277.72 L434.30,277.53 L435.80,277.34 L437.30,277.15 L438.80,276.97 L440.30,276.78 L441.80,276.60 L443.29,276.41 L444.79,276.23 L446.29,276.05 L447.79,275.87 L449.29,275.69 L450.79,275.52 L452.29,275.34 L453.79,275.17 L455.29,274.99 L456.78,274.82 L458.28,274.65 L459.78,274.48 L461.28,274.31 L462.78,274.14 L464.28,273.97 L465.78,273.80 L467.28,273.64 L468.78,273.47 L470.28,273.31 L471.77,273.15 L473.27,272.99 L474.77,272.83 L476.27,272.67 L477.77,272.51 L479.27,272.35 L480.77,272.20 L482.27,272.04 L483.77,271.89 L485.27,271.74 L486.76,271.58 L488.26,271.43 L489.76,271.28 L491.26,271.14 L492.76,270.99 L494.26,270.84 L495.76,270.69 L497.26,270.55 L498.76,270.41 L500.26,270.26 L501.75,270.12 L503.25,269.98 L504.75,269.84 L506.25,269.70 L507.75,269.56 L509.25,269.42 L510.75,269.29 L512.25,269.15 L513.75,269.02 L515.25,268.88 L516.74,268.75 L518.24,268.62 L519.74,268.49 L521.24,268.36 L522.74,268.23 L524.24,268.10 L525.74,267.97 L527.24,267.85 L528.74,267.72 L530.24,267.60 L531.73,267.47 L533.23,267.35 L534.73,267.23 L536.23,267.11 L537.73,266.99 L539.23,266.87 L540.73,266.75 L542.23,266.63 L543.73,266.51 L545.23,266.40 L546.72,266.28 L548.22,266.17 L549.72,266.05 L551.22,265.94 L552.72,265.83 L554.22,265.72 L555.72,265.61 L557.22,265.50 L558.72,265.39 L560.22,265.28 L561.71,265.17 L563.21,265.07 L564.71,264.96 L566.21,264.86 L567.71,264.76 L569.21,264.65 L570.71,264.55 L572.21,264.45 L573.71,264.35 L575.20,264.25 L576.70,264.15 L578.20,264.05 L579.70,263.96 L581.20,263.86 L582.70,263.76 L584.20,263.67 L585.70,263.57 L587.20,263.48 L588.70,263.39 L590.19,263.30 L591.69,263.21 L593.19,263.12 L594.69,263.03 L596.19,262.94 L597.69,262.85 L599.19,262.76 L600.69,262.68 L602.19,262.59 L603.69,262.51 L605.18,262.42 L606.68,262.34 L608.18,262.26 L609.68,262.18 L611.18,262.10 L612.68,262.02 L614.18,261.94 L615.68,261.86 L617.18,261.78 L618.68,261.70 L620.17,261.63 L621.67,261.55 L623.17,261.48 L624.67,261.40 L626.17,261.33 L627.67,261.26 L629.17,261.19 L630.67,261.12 L632.17,261.05 L633.67,260.98 L635.16,260.91 L636.66,260.84 L638.16,260.77 L639.66,260.71 L641.16,260.64 L642.66,260.58 L644.16,260.51 L645.66,260.45 L647.16,260.39 L648.66,260.33 L650.15,260.27 L651.65,260.21 L653.15,260.15 L654.65,260.09 L656.15,260.03 L657.65,259.98 L659.15,259.92 L660.65,259.86 L662.15,259.81 L663.65,259.76 L665.14,259.70 L666.64,259.65 L668.14,259.60 L669.64,259.55 L671.14,259.50 L672.64,259.45 L674.14,259.40 L675.64,259.36 L677.14,259.31 L678.63,259.26 L680.13,259.22 L681.63,259.17 L683.13,259.13 L684.63,259.09 L686.13,259.05 L687.63,259.01 L689.13,258.97 L690.63,258.93 L692.13,258.89 L693.62,258.85 L695.12,258.81 L696.62,258.78 L698.12,258.74 L699.62,258.71 L701.12,258.68 L702.62,258.64 L704.12,258.61 L705.62,258.58 L707.12,258.55 L708.61,258.52 L710.11,258.49 L711.61,258.47 L713.11,258.44 L714.61,258.41 L716.11,258.39 L717.61,258.36 L719.11,258.34 L720.61,258.32 L722.11,258.30 L723.60,258.28 L725.10,258.26 L726.60,258.24 L728.10,258.22 L729.60,258.20 L731.10,258.19 L732.60,258.17 L734.10,258.16 L735.60,258.14 L737.10,258.13 L738.59,258.12 L740.09,258.11 L741.59,258.10 L743.09,258.09 L744.59,258.08 L746.09,258.08 L747.59,258.07 L749.09,258.07 L750.59,258.06 L752.09,258.06 L753.58,258.06 L755.08,258.06 L756.58,258.05 L758.08,258.06 L759.58,258.06 L761.08,258.06 L762.58,258.06 L764.08,258.07 L765.58,258.07 L767.08,258.08 L768.57,258.09 L770.07,258.10 L771.57,258.11 L773.07,258.12 L774.57,258.13 L776.07,258.14 L777.57,258.16 L779.07,258.17 L780.57,258.19 L782.06,258.20 L783.56,258.22 L785.06,258.24 L786.56,258.26 L788.06,258.28 L789.56,258.30 L791.06,258.33 L792.56,258.35 L794.06,258.38 L795.56,258.40 L797.05,258.43 L798.55,258.46 L800.05,258.49 L801.55,258.52 L803.05,258.55 L804.55,258.59 L806.05,258.62 L807.55,258.66 L809.05,258.69 L810.55,258.73 L812.04,258.77 L813.54,258.81 L815.04,258.85 L816.54,258.89 L818.04,258.94 L819.54,258.98 L821.04,259.03 L822.54,259.08 L824.04,259.12 L825.54,259.17 L827.03,259.23 L828.53,259.28 L830.03,259.33 L831.53,259.39 L833.03,259.44 L834.53,259.50 L836.03,259.56 L837.53,259.62 L839.03,259.68 L840.53,259.74 L842.02,259.81 L843.52,259.87 L845.02,259.94 L846.52,260.01 L848.02,260.07 L849.52,260.15 L851.02,260.22 L852.52,260.29 L854.02,260.36 L855.52,260.44 L857.01,260.52 L858.51,260.60 L860.01,260.68 L861.51,260.76 L863.01,260.84 L864.51,260.93 L866.01,261.01 L867.51,261.10 L869.01,261.19 L870.51,261.28 L872.00,261.37 L873.50,261.46 L875.00,261.56 L876.50,261.65 L878.00,261.75" stroke="#000" stroke-width="2.5" fill="none" stroke-linejoin="round" stroke-linecap="round"/>
<path d="M55.50,390.50 L57.00,389.75 L58.50,389.00 L60.00,388.26 L61.50,387.51 L63.00,386.78 L64.50,386.05 L66.00,385.32 L67.50,384.59 L69.00,383.87 L70.50,383.15 L72.00,382.44 L73.50,381.73 L75.00,381.02 L76.50,380.32 L78.00,379.62 L79.50,378.93 L81.00,378.24 L82.50,377.55 L84.00,376.87 L85.50,376.19 L87.00,375.51 L88.50,374.84 L90.00,374.17 L91.50,373.50 L93.00,372.84 L94.50,372.18 L96.00,371.53 L97.50,370.88 L99.00,370.23 L100.50,369.59 L102.00,368.95 L103.50,368.31 L105.00,367.68 L106.50,367.04 L108.00,366.42 L109.50,365.79 L111.00,365.17 L112.50,364.56 L114.00,363.95 L115.50,363.34 L117.00,362.73 L118.50,362.13 L120.00,361.53 L121.50,360.93 L123.00,360.34 L124.50,359.75 L126.00,359.16 L127.50,358.58 L129.00,358.00 L130.50,357.42 L132.00,356.85" stroke="#000" stroke-width="1" fill="none" stroke-linejoin="round" stroke-linecap="round"/>
<path d="M132.00,356.85 L133.50,356.28 L135.00,355.71 L136.49,355.15 L137.99,354.59 L139.49,354.03 L140.99,353.47 L142.49,352.92 L143.98,352.38 L145.48,351.83 L146.98,351.29 L148.48,350.75 L149.98,350.21 L151.47,349.68 L152.97,349.15 L154.47,348.63 L155.97,348.10 L157.47,347.58 L158.96,347.06 L160.46,346.55 L161.96,346.04 L163.46,345.53 L164.96,345.02 L166.45,344.52 L167.95,344.02 L169.45,343.52 L170.95,343.02 L172.45,342.53 L173.94,342.04 L175.44,341.56 L176.94,341.07 L178.44,340.59 L179.94,340.12 L181.43,339.64 L182.93,339.17 L184.43,338.70 L185.93,338.23 L187.43,337.77 L188.92,337.30 L190.42,336.85 L191.92,336.39 L193.42,335.94 L194.92,335.48 L196.41,335.04 L197.91,334.59 L199.41,334.15 L200.91,333.71 L202.41,333.27 L203.90,332.83 L205.40,332.40 L206.90,331.97 L208.40,331.54 L209.90,331.12 L211.39,330.69 L212.89,330.27 L214.39,329.85 L215.89,329.44 L217.39,329.03 L218.88,328.62 L220.38,328.21 L221.88,327.80 L223.38,327.40 L224.88,327.00 L226.37,326.60 L227.87,326.20 L229.37,325.81 L230.87,325.42 L232.37,325.03 L233.86,324.64 L235.36,324.26 L236.86,323.87 L238.36,323.49 L239.86,323.12 L241.35,322.74 L242.85,322.37 L244.35,322.00 L245.85,321.63 L247.35,321.26 L248.84,320.90 L250.34,320.54 L251.84,320.18 L253.34,319.82 L254.84,319.46 L256.33,319.11 L257.83,318.76 L259.33,318.41 L260.83,318.06 L262.33,317.72 L263.82,317.38 L265.32,317.03 L266.82,316.70 L268.32,316.36 L269.82,316.03 L271.31,315.69 L272.81,315.36 L274.31,315.03 L275.81,314.71 L277.31,314.38 L278.80,314.06 L280.30,313.74 L281.80,313.42 L283.30,313.11 L284.80,312.79 L286.29,312.48 L287.79,312.17 L289.29,311.86 L290.79,311.55 L292.29,311.25 L293.78,310.95 L295.28,310.64 L296.78,310.35 L298.28,310.05 L299.78,309.75 L301.27,309.46 L302.77,309.17 L304.27,308.88 L305.77,308.59 L307.27,308.30 L308.76,308.02 L310.26,307.74 L311.76,307.46 L313.26,307.18 L314.76,306.90 L316.25,306.62 L317.75,306.35 L319.25,306.08 L320.75,305.81 L322.24,305.54 L323.74,305.27 L325.24,305.01 L326.74,304.74 L328.24,304.48 L329.73,304.22 L331.23,303.96 L332.73,303.70 L334.23,303.45 L335.73,303.20 L337.22,302.94 L338.72,302.69 L340.22,302.44 L341.72,302.20 L343.22,301.95 L344.71,301.71 L346.21,301.47 L347.71,301.22 L349.21,300.99 L350.71,300.75 L352.20,300.51 L353.70,300.28 L355.20,300.04 L356.70,299.81 L358.20,299.58 L359.69,299.35 L361.19,299.13 L362.69,298.90 L364.19,298.68 L365.69,298.45 L367.18,298.23 L368.68,298.01 L370.18,297.79 L371.68,297.58 L373.18,297.36 L374.67,297.15 L376.17,296.93 L377.67,296.72 L379.17,296.51 L380.67,296.30 L382.16,296.10 L383.66,295.89 L385.16,295.69 L386.66,295.48 L388.16,295.28 L389.65,295.08 L391.15,294.88 L392.65,294.69 L394.15,294.49 L395.65,294.30 L397.14,294.10 L398.64,293.91 L400.14,293.72 L401.64,293.53 L403.14,293.34 L404.63,293.15 L406.13,292.97 L407.63,292.78 L409.13,292.60 L410.63,292.42 L412.12,292.24 L413.62,292.06 L415.12,291.88 L416.62,291.70 L418.12,291.52 L419.61,291.35 L421.11,291.18 L422.61,291.00 L424.11,290.83 L425.61,290.66 L427.10,290.49 L428.60,290.33 L430.10,290.16 L431.60,289.99 L433.10,289.83 L434.59,289.67 L436.09,289.51 L437.59,289.34 L439.09,289.18 L440.59,289.03 L442.08,288.87 L443.58,288.71 L445.08,288.56 L446.58,288.40 L448.08,288.25 L449.57,288.10 L451.07,287.95 L452.57,287.80 L454.07,287.65 L455.57,287.50 L457.06,287.35 L458.56,287.21 L460.06,287.06 L461.56,286.92 L463.06,286.78 L464.55,286.64 L466.05,286.50 L467.55,286.36 L469.05,286.22 L470.55,286.08 L472.04,285.95 L473.54,285.81 L475.04,285.68 L476.54,285.54 L478.04,285.41 L479.53,285.28 L481.03,285.15 L482.53,285.02 L484.03,284.89 L485.53,284.76 L487.02,284.64 L488.52,284.51 L490.02,284.39 L491.52,284.26 L493.02,284.14 L494.51,284.02 L496.01,283.90 L497.51,283.78 L499.01,283.66 L500.51,283.54 L502.00,283.43 L503.50,283.31 L505.00,283.19 L506.50,283.08 L508.00,282.97 L509.49,282.85 L510.99,282.74 L512.49,282.63 L513.99,282.52 L515.49,282.41 L516.98,282.30 L518.48,282.20 L519.98,282.09 L521.48,281.98 L522.98,281.88 L524.47,281.78 L525.97,281.67 L527.47,281.57 L528.97,281.47 L530.47,281.37 L531.96,281.27 L533.46,281.17 L534.96,281.07 L536.46,280.98 L537.96,280.88 L539.45,280.78 L540.95,280.69 L542.45,280.60 L543.95,280.50 L545.45,280.41 L546.94,280.32 L548.44,280.23 L549.94,280.14 L551.44,280.05 L552.94,279.96 L554.43,279.87 L555.93,279.79 L557.43,279.70 L558.93,279.62 L560.43,279.53 L561.92,279.45 L563.42,279.36 L564.92,279.28 L566.42,279.20 L567.92,279.12 L569.41,279.04 L570.91,278.96 L572.41,278.88 L573.91,278.81 L575.41,278.73 L576.90,278.65 L578.40,278.58 L579.90,278.50 L581.40,278.43 L582.90,278.36 L584.39,278.29 L585.89,278.21 L587.39,278.14 L588.89,278.07 L590.39,278.00 L591.88,277.94 L593.38,277.87 L594.88,277.80 L596.38,277.73 L597.88,277.67 L599.37,277.60 L600.87,277.54 L602.37,277.48 L603.87,277.41 L605.37,277.35 L606.86,277.29 L608.36,277.23 L609.86,277.17 L611.36,277.11 L612.86,277.05 L614.35,276.99 L615.85,276.94 L617.35,276.88 L618.85,276.82 L620.35,276.77 L621.84,276.71 L623.34,276.66 L624.84,276.61 L626.34,276.56 L627.84,276.50 L629.33,276.45 L630.83,276.40 L632.33,276.35 L633.83,276.31 L635.33,276.26 L636.82,276.21 L638.32,276.16 L639.82,276.12 L641.32,276.07 L642.82,276.03 L644.31,275.98 L645.81,275.94 L647.31,275.90 L648.81,275.86 L650.31,275.82 L651.80,275.78 L653.30,275.74 L654.80,275.70 L656.30,275.66 L657.80,275.62 L659.29,275.58 L660.79,275.55 L662.29,275.51 L663.79,275.48 L665.29,275.44 L666.78,275.41 L668.28,275.38 L669.78,275.34 L671.28,275.31 L672.78,275.28 L674.27,275.25 L675.77,275.22 L677.27,275.19 L678.77,275.17 L680.27,275.14 L681.76,275.11 L683.26,275.09 L684.76,275.06 L686.26,275.04 L687.76,275.01 L689.25,274.99 L690.75,274.97 L692.25,274.95 L693.75,274.92 L695.24,274.90 L696.74,274.88 L698.24,274.87 L699.74,274.85 L701.24,274.83 L702.73,274.81 L704.23,274.80 L705.73,274.78 L707.23,274.77 L708.73,274.75 L710.22,274.74 L711.72,274.73 L713.22,274.71 L714.72,274.70 L716.22,274.69 L717.71,274.68 L719.21,274.67 L720.71,274.67 L722.21,274.66 L723.71,274.65 L725.20,274.65 L726.70,274.64 L728.20,274.64 L729.70,274.63 L731.20,274.63 L732.69,274.63 L734.19,274.62 L735.69,274.62 L737.19,274.62 L738.69,274.62 L740.18,274.63 L741.68,274.63 L743.18,274.63 L744.68,274.63 L746.18,274.64 L747.67,274.64 L749.17,274.65 L750.67,274.65 L752.17,274.66 L753.67,274.67 L755.16,274.68 L756.66,274.69 L758.16,274.70 L759.66,274.71 L761.16,274.72 L762.65,274.73 L764.15,274.75 L765.65,274.76 L767.15,274.78 L768.65,274.79 L770.14,274.81 L771.64,274.83 L773.14,274.85 L774.64,274.87 L776.14,274.89 L777.63,274.91 L779.13,274.93 L780.63,274.95 L782.13,274.97 L783.63,275.00 L785.12,275.02 L786.62,275.05 L788.12,275.07 L789.62,275.10 L791.12,275.13 L792.61,275.16 L794.11,275.19 L795.61,275.22 L797.11,275.25 L798.61,275.28 L800.10,275.32 L801.60,275.35 L803.10,275.39 L804.60,275.42 L806.10,275.46 L807.59,275.50 L809.09,275.53 L810.59,275.57 L812.09,275.61 L813.59,275.65 L815.08,275.70 L816.58,275.74 L818.08,275.78 L819.58,275.83 L821.08,275.87 L822.57,275.92 L824.07,275.97 L825.57,276.02 L827.07,276.07 L828.57,276.12 L830.06,276.17 L831.56,276.22 L833.06,276.27 L834.56,276.33 L836.06,276.38 L837.55,276.44 L839.05,276.50 L840.55,276.56 L842.05,276.61 L843.55,276.67 L845.04,276.74 L846.54,276.80 L848.04,276.86 L849.54,276.93 L851.04,276.99 L852.53,277.06 L854.03,277.12 L855.53,277.19 L857.03,277.26 L858.53,277.33 L860.02,277.40 L861.52,277.48 L863.02,277.55 L864.52,277.62 L866.02,277.70 L867.51,277.78 L869.01,277.85 L870.51,277.93 L872.01,278.01 L873.51,278.09 L875.00,278.17 L876.50,278.26 L878.00,278.34" stroke="#000" stroke-width="3.4" fill="none" stroke-linejoin="round" stroke-linecap="round"/>
<path d="M55.50,95.30 L57.49,95.26 L59.48,95.21 L61.46,95.17 L63.45,95.13 L65.44,95.08 L67.43,95.04 L69.42,95.00 L71.40,94.95 L73.39,94.91 L75.38,94.87 L77.37,94.83 L79.36,94.79 L81.35,94.75 L83.33,94.70 L85.32,94.66 L87.31,94.63 L89.30,94.59 L91.29,94.55 L93.27,94.51 L95.26,94.47 L97.25,94.44 L99.24,94.40 L101.23,94.37 L103.21,94.33 L105.20,94.30 L107.19,94.27 L109.18,94.24 L111.17,94.21 L113.15,94.18 L115.14,94.15 L117.13,94.12 L119.12,94.09 L121.11,94.07 L123.10,94.05 L125.08,94.02 L127.07,94.00 L129.06,93.98 L131.05,93.96 L133.04,93.94 L135.02,93.93 L137.01,93.91 L139.00,93.90" stroke="#0b4a8d" stroke-width="1" fill="none"/>
<path d="M139.00,93.90 L140.99,93.89 L142.98,93.88 L144.97,93.87 L146.96,93.86 L148.95,93.85 L150.94,93.85 L152.93,93.85 L154.93,93.84 L156.92,93.84 L158.91,93.84 L160.90,93.84 L162.89,93.84 L164.88,93.85 L166.87,93.85 L168.86,93.86 L170.85,93.86 L172.84,93.87 L174.83,93.87 L176.82,93.88 L178.81,93.89 L180.80,93.90 L182.79,93.91 L184.78,93.92 L186.78,93.93 L188.77,93.95 L190.76,93.96 L192.75,93.97 L194.74,93.99 L196.73,94.00 L198.72,94.01 L200.71,94.03 L202.70,94.04 L204.69,94.06 L206.68,94.07 L208.67,94.09 L210.66,94.11 L212.65,94.12 L214.64,94.14 L216.63,94.15 L218.63,94.17 L220.62,94.19 L222.61,94.20 L224.60,94.22 L226.59,94.24 L228.58,94.26 L230.57,94.28 L232.56,94.29 L234.55,94.31 L236.54,94.33 L238.53,94.36 L240.52,94.38 L242.51,94.40 L244.50,94.42 L246.49,94.45 L248.49,94.47 L250.48,94.50 L252.47,94.52 L254.46,94.55 L256.45,94.58 L258.44,94.61 L260.43,94.64 L262.42,94.67 L264.41,94.70 L266.40,94.74 L268.39,94.77 L270.38,94.81 L272.37,94.84 L274.36,94.88 L276.35,94.92 L278.34,94.96 L280.34,95.01 L282.33,95.05 L284.32,95.10 L286.31,95.15 L288.30,95.19 L290.29,95.25 L292.28,95.30 L294.27,95.35 L296.26,95.41 L298.25,95.47 L300.24,95.53 L302.23,95.59 L304.22,95.66 L306.21,95.73 L308.20,95.80 L310.20,95.87 L312.19,95.94 L314.18,96.02 L316.17,96.10 L318.16,96.18 L320.15,96.27 L322.14,96.36 L324.13,96.45 L326.12,96.54 L328.11,96.64 L330.10,96.74 L332.09,96.84 L334.08,96.95 L336.07,97.06 L338.06,97.17 L340.05,97.29 L342.05,97.41 L344.04,97.53 L346.03,97.65 L348.02,97.78 L350.01,97.91 L352.00,98.04 L353.99,98.17 L355.98,98.30 L357.97,98.43 L359.96,98.57 L361.95,98.70 L363.94,98.83 L365.93,98.97 L367.92,99.10 L369.91,99.24 L371.90,99.37 L373.90,99.50 L375.89,99.63 L377.88,99.76 L379.87,99.89 L381.86,100.01 L383.85,100.14 L385.84,100.26 L387.83,100.37 L389.82,100.49 L391.81,100.60 L393.80,100.71 L395.79,100.82 L397.78,100.92 L399.77,101.03 L401.76,101.13 L403.76,101.23 L405.75,101.33 L407.74,101.42 L409.73,101.52 L411.72,101.62 L413.71,101.71 L415.70,101.81 L417.69,101.90 L419.68,102.00 L421.67,102.10 L423.66,102.20 L425.65,102.30 L427.64,102.40 L429.63,102.51 L431.62,102.62 L433.61,102.73 L435.61,102.84 L437.60,102.96 L439.59,103.07 L441.58,103.20 L443.57,103.32 L445.56,103.45 L447.55,103.59 L449.54,103.73 L451.53,103.87 L453.52,104.01 L455.51,104.15 L457.50,104.30 L459.49,104.45 L461.48,104.61 L463.47,104.77 L465.47,104.92 L467.46,105.09 L469.45,105.25 L471.44,105.42 L473.43,105.58 L475.42,105.75 L477.41,105.92 L479.40,106.10 L481.39,106.27 L483.38,106.44 L485.37,106.62 L487.36,106.80 L489.35,106.98 L491.34,107.16 L493.33,107.34 L495.32,107.52 L497.32,107.70 L499.31,107.88 L501.30,108.06 L503.29,108.24 L505.28,108.43 L507.27,108.61 L509.26,108.79 L511.25,108.97 L513.24,109.16 L515.23,109.34 L517.22,109.52 L519.21,109.70 L521.20,109.89 L523.19,110.07 L525.18,110.25 L527.17,110.44 L529.17,110.62 L531.16,110.80 L533.15,110.98 L535.14,111.17 L537.13,111.35 L539.12,111.53 L541.11,111.72 L543.10,111.90 L878,214.0" stroke="#0b4a8d" stroke-width="2.2" fill="none" stroke-linejoin="round" stroke-linecap="round"/>
<path d="M55.50,144.80 L57.49,144.76 L59.49,144.72 L61.48,144.69 L63.47,144.65 L65.47,144.61 L67.46,144.57 L69.45,144.53 L71.45,144.50 L73.44,144.46 L75.43,144.42 L77.43,144.38 L79.42,144.35 L81.41,144.31 L83.41,144.28 L85.40,144.24 L87.39,144.21 L89.39,144.17 L91.38,144.14 L93.38,144.10 L95.37,144.07 L97.36,144.04 L99.36,144.01 L101.35,143.97 L103.34,143.94 L105.34,143.91 L107.33,143.89 L109.32,143.86 L111.32,143.83 L113.31,143.80 L115.30,143.78 L117.30,143.75 L119.29,143.73 L121.28,143.70 L123.28,143.68 L125.27,143.66 L127.26,143.64 L129.26,143.62 L131.25,143.60" stroke="#0b4a8d" stroke-width="1" fill="none" stroke-linejoin="round" stroke-linecap="round"/>
<path d="M131.25,143.60 L133.25,143.58 L135.24,143.57 L137.24,143.55 L139.24,143.54 L141.23,143.52 L143.23,143.51 L145.23,143.50 L147.22,143.49 L149.22,143.48 L151.22,143.47 L153.21,143.47 L155.21,143.46 L157.21,143.45 L159.20,143.45 L161.20,143.45 L163.20,143.45 L165.19,143.45 L167.19,143.45 L169.19,143.45 L171.18,143.45 L173.18,143.45 L175.18,143.46 L177.17,143.46 L179.17,143.47 L181.17,143.47 L183.16,143.48 L185.16,143.49 L187.16,143.50 L189.15,143.51 L191.15,143.52 L193.15,143.54 L195.14,143.55 L197.14,143.57 L199.14,143.58 L201.13,143.60 L203.13,143.62 L205.13,143.63 L207.12,143.65 L209.12,143.67 L211.12,143.69 L213.11,143.72 L215.11,143.74 L217.11,143.76 L219.10,143.79 L221.10,143.81 L223.10,143.84 L225.09,143.87 L227.09,143.90 L229.09,143.93 L231.08,143.96 L233.08,143.99 L235.08,144.02 L237.07,144.05 L239.07,144.09 L241.07,144.12 L243.06,144.16 L245.06,144.20 L247.06,144.24 L249.05,144.28 L251.05,144.32 L253.05,144.36 L255.04,144.40 L257.04,144.45 L259.04,144.49 L261.03,144.54 L263.03,144.58 L265.03,144.63 L267.02,144.68 L269.02,144.74 L271.02,144.79 L273.01,144.84 L275.01,144.90 L277.01,144.95 L279.00,145.01 L281.00,145.07 L283.00,145.13 L284.99,145.19 L286.99,145.26 L288.99,145.32 L290.98,145.39 L292.98,145.45 L294.98,145.52 L296.97,145.59 L298.97,145.66 L300.97,145.73 L302.96,145.80 L304.96,145.88 L306.96,145.95 L308.95,146.02 L310.95,146.10 L312.95,146.18 L314.94,146.26 L316.94,146.33 L318.94,146.41 L320.93,146.49 L322.93,146.58 L324.93,146.66 L326.92,146.74 L328.92,146.82 L330.92,146.91 L332.91,146.99 L334.91,147.08 L336.91,147.17 L338.90,147.25 L340.90,147.34 L342.90,147.43 L344.89,147.52 L346.89,147.60 L348.89,147.69 L350.88,147.78 L352.88,147.88 L354.88,147.97 L356.87,148.06 L358.87,148.15 L360.87,148.25 L362.86,148.34 L364.86,148.44 L366.86,148.53 L368.85,148.63 L370.85,148.73 L372.85,148.82 L374.84,148.92 L376.84,149.02 L378.84,149.12 L380.83,149.23 L382.83,149.33 L384.83,149.43 L386.82,149.54 L388.82,149.64 L390.82,149.75 L392.81,149.85 L394.81,149.96 L396.81,150.07 L398.80,150.18 L400.80,150.29 L402.80,150.40 L404.79,150.52 L406.79,150.63 L408.79,150.75 L410.78,150.86 L412.78,150.98 L414.78,151.10 L416.77,151.22 L418.77,151.34 L420.77,151.46 L422.76,151.59 L424.76,151.71 L426.76,151.84 L428.75,151.96 L430.75,152.09 L432.75,152.22 L434.74,152.35 L436.74,152.48 L438.74,152.61 L440.73,152.75 L442.73,152.89 L444.73,153.02 L446.72,153.16 L448.72,153.30 L450.72,153.44 L452.71,153.58 L454.71,153.73 L456.71,153.87 L458.70,154.02 L460.70,154.17 L462.70,154.32 L464.69,154.47 L466.69,154.62 L468.69,154.77 L470.68,154.93 L472.68,155.09 L474.68,155.24 L476.67,155.40 L478.67,155.56 L480.67,155.73 L482.66,155.89 L484.66,156.06 L486.66,156.22 L488.65,156.39 L490.65,156.56 L492.65,156.73 L494.64,156.90 L496.64,157.08 L498.64,157.26 L500.63,157.43 L502.63,157.61 L504.62,157.79 L506.62,157.97 L508.62,158.16 L510.61,158.34 L512.61,158.53 L514.61,158.72 L516.60,158.91 L518.60,159.10 L520.60,159.29 L522.59,159.49 L524.59,159.68 L526.59,159.88 L528.58,160.08 L530.58,160.28 L532.58,160.48 L534.57,160.68 L536.57,160.89 L538.57,161.09 L540.56,161.30 L542.56,161.51 L544.56,161.72 L546.55,161.93 L548.55,162.15 L550.55,162.36 L552.54,162.58 L554.54,162.80 L556.54,163.02 L558.53,163.24 L560.53,163.46 L562.53,163.68 L564.52,163.91 L566.52,164.13 L568.52,164.36 L570.51,164.59 L572.51,164.82 L574.51,165.05 L576.50,165.29 L578.50,165.52 L580.50,165.75 L582.49,165.99 L584.49,166.23 L586.49,166.47 L588.48,166.70 L590.48,166.94 L592.48,167.19 L594.47,167.43 L596.47,167.67 L598.47,167.91 L600.46,168.16 L602.46,168.40 L604.46,168.65 L606.45,168.89 L608.45,169.14 L610.45,169.39 L612.44,169.64 L614.44,169.89 L616.44,170.14 L618.43,170.39 L620.43,170.64 L622.43,170.89 L624.42,171.15 L626.42,171.40 L628.42,171.66 L630.41,171.92 L632.41,172.17 L634.41,172.43 L636.40,172.69 L638.40,172.95 L640.40,173.22 L642.39,173.48 L644.39,173.75 L646.39,174.01 L648.38,174.28 L650.38,174.55 L652.38,174.82 L654.37,175.09 L656.37,175.36 L658.37,175.64 L660.36,175.91 L662.36,176.19 L664.36,176.46 L666.35,176.74 L668.35,177.02 L670.35,177.31 L672.34,177.59 L674.34,177.88 L676.34,178.16 L678.33,178.45 L680.33,178.74 L682.33,179.03 L684.32,179.33 L686.32,179.62 L688.32,179.92 L690.31,180.22 L692.31,180.52 L694.31,180.82 L696.30,181.12 L698.30,181.43 L700.30,181.74 L702.29,182.05 L704.29,182.36 L706.29,182.68 L708.28,182.99 L710.28,183.31 L712.28,183.63 L714.27,183.96 L716.27,184.28 L718.27,184.61 L720.26,184.94 L722.26,185.28 L724.26,185.61 L726.25,185.95 L728.25,186.29 L730.25,186.63 L732.24,186.98 L734.24,187.32 L736.24,187.67 L738.23,188.02 L740.23,188.38 L742.23,188.73 L744.22,189.09 L746.22,189.45 L748.22,189.81 L750.21,190.17 L752.21,190.53 L754.21,190.90 L756.20,191.27 L758.20,191.64 L760.20,192.01 L762.19,192.38 L764.19,192.75 L766.19,193.13 L768.18,193.50 L770.18,193.88 L772.18,194.26 L774.17,194.64 L776.17,195.02 L778.17,195.40 L780.16,195.78 L782.16,196.17 L784.16,196.55 L786.15,196.94 L788.15,197.33 L790.15,197.72 L792.14,198.11 L794.14,198.50 L796.14,198.89 L798.13,199.28 L800.13,199.68 L802.13,200.07 L804.12,200.47 L806.12,200.86 L808.12,201.26 L810.11,201.66 L812.11,202.05 L814.11,202.45 L816.10,202.85 L818.10,203.26 L820.10,203.66 L822.09,204.06 L824.09,204.46 L826.09,204.87 L828.08,205.27 L830.08,205.67 L832.08,206.08 L834.07,206.49 L836.07,206.89 L838.07,207.30 L840.06,207.71 L842.06,208.11 L844.06,208.52 L846.05,208.93 L848.05,209.34 L850.05,209.75 L852.04,210.16 L854.04,210.57 L856.04,210.98 L858.03,211.39 L860.03,211.80 L862.03,212.21 L864.02,212.62 L866.02,213.03 L868.02,213.44 L870.01,213.85 L872.01,214.27 L874.01,214.68 L876.00,215.09 L878.00,215.50" stroke="#0b4a8d" stroke-width="3.5" fill="none" stroke-linejoin="round" stroke-linecap="round"/>
<path d="M55.5,373.9 H74" stroke="#0b4a8d" stroke-width="1" fill="none"/>
<path d="M74.00,373.90 L75.99,373.91 L77.98,373.91 L79.97,373.92 L81.96,373.93 L83.95,373.94 L85.95,373.96 L87.94,373.97 L89.93,373.99 L91.92,374.00 L93.91,374.02 L95.90,374.04 L97.89,374.06 L99.88,374.09 L101.87,374.11 L103.86,374.14 L105.85,374.16 L107.85,374.19 L109.84,374.22 L111.83,374.25 L113.82,374.28 L115.81,374.31 L117.80,374.34 L119.79,374.38 L121.78,374.41 L123.77,374.45 L125.76,374.49 L127.75,374.52 L129.75,374.56 L131.74,374.60 L133.73,374.64 L135.72,374.68 L137.71,374.73 L139.70,374.77 L141.69,374.81 L143.68,374.86 L145.67,374.90 L147.66,374.95 L149.65,374.99 L151.65,375.04 L153.64,375.09 L155.63,375.13 L157.62,375.18 L159.61,375.23 L161.60,375.28 L163.59,375.33 L165.58,375.38 L167.57,375.43 L169.56,375.49 L171.55,375.54 L173.55,375.59 L175.54,375.65 L177.53,375.70 L179.52,375.76 L181.51,375.81 L183.50,375.87 L185.49,375.92 L187.48,375.98 L189.47,376.04 L191.46,376.10 L193.45,376.16 L195.45,376.22 L197.44,376.28 L199.43,376.34 L201.42,376.40 L203.41,376.46 L205.40,376.52 L207.39,376.59 L209.38,376.65 L211.37,376.72 L213.36,376.78 L215.35,376.85 L217.35,376.91 L219.34,376.98 L221.33,377.04 L223.32,377.11 L225.31,377.18 L227.30,377.25 L229.29,377.32 L231.28,377.39 L233.27,377.46 L235.26,377.53 L237.25,377.60 L239.25,377.67 L241.24,377.74 L243.23,377.81 L245.22,377.89 L247.21,377.96 L249.20,378.03 L251.19,378.11 L253.18,378.18 L255.17,378.25 L257.16,378.33 L259.15,378.40 L261.15,378.48 L263.14,378.55 L265.13,378.63 L267.12,378.70 L269.11,378.78 L271.10,378.86 L273.09,378.93 L275.08,379.01 L277.07,379.09 L279.06,379.16 L281.05,379.24 L283.05,379.32 L285.04,379.39 L287.03,379.47 L289.02,379.55 L291.01,379.62 L293.00,379.70" stroke="#0b4a8d" stroke-width="3" fill="none" stroke-linejoin="round" stroke-linecap="round"/>
<path d="M55.5,0 V397" stroke="#000" stroke-width="1.5" fill="none"/>
<path d="M55,0.5 H958" stroke="#9c9da2" stroke-width="1" fill="none"/>
<path d="M48,390.5 H966" stroke="#000" stroke-width="1" fill="none"/>
<path d="M959,0 V391" stroke="#000" stroke-width="2" fill="none"/>
<path d="M48,390.5 H55 M48,351.5 H55 M48,312.5 H55 M48,273.5 H55 M48,234.5 H55 M48,195.5 H55 M48,156.5 H55 M48,117.5 H55 M48,78.5 H55 M55.5,390 V397 M111.5,390 V397 M167.5,390 V397 M223.5,390 V397 M279.5,390 V397 M335.5,390 V397 M391.5,390 V397 M447.5,390 V397 M503.5,390 V397 M558.5,390 V397 M614.5,390 V397 M670.5,390 V397 M726.5,390 V397 M782.5,390 V397 M838.5,390 V397 M894.5,390 V397 M950.5,390 V397 M960,390.5 H966 M960,351.5 H966 M960,312.5 H966 M960,273.5 H966 M960,234.5 H966 M960,195.5 H966" stroke="#000" stroke-width="1" fill="none"/>
<circle cx="768.67" cy="193.6" r="6.4" fill="#ffff00" stroke="#ff0000" stroke-width="1.7"/>
<path d="M483.44,319.60 L483.44,319.60 L493.28,316.30 L503.12,312.93 L512.95,309.48 L522.79,305.96 L532.63,302.36 L542.47,298.69 L552.31,294.94 L562.14,291.12 L571.98,287.22 L581.82,283.25 L591.66,279.21 L601.49,275.08 L611.33,270.89 L621.17,266.62 L631.01,262.27 L640.84,257.85 L650.68,253.35 L660.52,248.78 L670.36,244.13 L680.20,239.41 L690.03,234.62 L699.87,229.75 L709.71,224.80 L719.55,219.78 L729.38,214.68 L739.22,209.51 L749.06,204.27 L758.90,198.95 L768.74,193.55" stroke="#ff2020" stroke-width="1" fill="none"/>
<path d="M55,193.5 H768.7" stroke="#000" stroke-width="1" fill="none"/>
<path d="M768.5,193.6 V390" stroke="#505860" stroke-width="1" fill="none"/>
<circle cx="768.67" cy="258.2" r="6.3" fill="#ff0000"/>
<circle cx="768.67" cy="274.6" r="6.3" fill="#ff0000"/>
<rect x="741.5" y="0" width="217" height="32.5" fill="#fff"/>
<path d="M741.5,0 V32.6" stroke="#888" stroke-width="1" fill="none"/>
<path d="M741,32.9 H958" stroke="#b0b0b0" stroke-width="1.4" fill="none"/>
<path d="M741,0.5 H958" stroke="#9c9da2" stroke-width="1" fill="none"/>
<path d="M55.50,639.00 L57.47,638.76 L59.44,638.52 L61.41,638.28 L63.38,638.04 L65.34,637.80 L67.31,637.56 L69.28,637.32 L71.25,637.08 L73.22,636.84 L75.19,636.59 L77.16,636.35 L79.12,636.11 L81.09,635.87 L83.06,635.63 L85.03,635.39 L87.00,635.15 L88.97,634.91 L90.94,634.67 L92.91,634.43 L94.88,634.19 L96.84,633.95 L98.81,633.71 L100.78,633.47 L102.75,633.23 L104.72,632.99 L106.69,632.75 L108.66,632.51 L110.62,632.27 L112.59,632.03 L114.56,631.79 L116.53,631.54 L118.50,631.30 L120.47,631.06 L122.44,630.82 L124.41,630.58 L126.38,630.34 L128.34,630.10 L130.31,629.86 L132.28,629.62 L134.25,629.38 L136.22,629.14 L138.19,628.90 L140.16,628.66 L142.12,628.42 L144.09,628.18 L146.06,627.94 L148.03,627.70 L150.00,627.46 L150.00,687.00 L55.50,687.00 Z" fill="#eef5fc"/>
<path d="M143.80,628.21 L145.79,627.97 L147.79,627.73 L149.78,627.48 L151.78,627.24 L153.77,626.99 L155.76,626.75 L157.76,626.51 L159.75,626.26 L161.75,626.02 L163.74,625.77 L165.73,625.53 L167.73,625.28 L169.72,625.03 L171.72,624.79 L173.71,624.54 L175.70,624.29 L177.70,624.05 L179.69,623.80 L181.69,623.55 L183.68,623.30 L185.67,623.06 L187.67,622.81 L189.66,622.56 L191.66,622.31 L193.65,622.06 L195.64,621.81 L197.64,621.56 L199.63,621.31 L201.63,621.06 L203.62,620.81 L205.61,620.56 L207.61,620.31 L209.60,620.06 L211.60,619.81 L213.59,619.56 L215.58,619.31 L217.58,619.06 L219.57,618.80 L221.57,618.55 L223.56,618.30 L225.55,618.05 L227.55,617.80 L229.54,617.55 L231.54,617.30 L233.53,617.05 L235.52,616.80 L237.52,616.54 L239.51,616.29 L241.51,616.04 L243.50,615.79 L245.49,615.54 L247.49,615.29 L249.48,615.04 L251.48,614.79 L253.47,614.54 L255.46,614.29 L257.46,614.04 L259.45,613.79 L261.45,613.54 L263.44,613.29 L265.43,613.04 L267.43,612.79 L269.42,612.54 L271.42,612.29 L273.41,612.05 L275.40,611.80 L277.40,611.55 L279.39,611.30 L281.39,611.05 L283.38,610.81 L285.37,610.56 L287.37,610.31 L289.36,610.07 L291.36,609.82 L293.35,609.58 L295.34,609.33 L297.34,609.09 L299.33,608.84 L301.33,608.60 L303.32,608.36 L305.31,608.11 L307.31,607.87 L309.30,607.63 L311.30,607.39 L313.29,607.15 L315.28,606.91 L317.28,606.67 L319.27,606.43 L321.27,606.19 L323.26,605.95 L325.25,605.71 L327.25,605.48 L329.24,605.24 L331.24,605.00 L333.23,604.77 L335.22,604.53 L337.22,604.30 L339.21,604.06 L341.21,603.83 L343.20,603.60 L345.19,603.37 L347.19,603.14 L349.18,602.91 L351.18,602.68 L353.17,602.45 L355.16,602.22 L357.16,601.99 L359.15,601.76 L361.15,601.54 L363.14,601.31 L365.13,601.09 L367.13,600.86 L369.12,600.64 L371.12,600.42 L373.11,600.20 L375.10,599.98 L377.10,599.76 L379.09,599.54 L381.09,599.32 L383.08,599.10 L385.07,598.89 L387.07,598.67 L389.06,598.46 L391.06,598.25 L393.05,598.03 L395.04,597.82 L397.04,597.61 L399.03,597.40 L401.03,597.19 L403.02,596.99 L405.01,596.78 L407.01,596.57 L409.00,596.37 L411.00,596.16 L412.99,595.96 L414.98,595.76 L416.98,595.56 L418.97,595.36 L420.97,595.15 L422.96,594.95 L424.95,594.76 L426.95,594.56 L428.94,594.36 L430.94,594.16 L432.93,593.96 L434.92,593.77 L436.92,593.57 L438.91,593.37 L440.91,593.18 L442.90,592.98 L444.89,592.79 L446.89,592.59 L448.88,592.39 L450.88,592.20 L452.87,592.00 L454.86,591.81 L456.86,591.61 L458.85,591.42 L460.85,591.22 L462.84,591.03 L464.83,590.83 L466.83,590.64 L468.82,590.44 L470.82,590.24 L472.81,590.05 L474.80,589.85 L476.80,589.65 L478.79,589.45 L480.79,589.25 L482.78,589.05 L484.77,588.86 L486.77,588.66 L488.76,588.45 L490.76,588.25 L492.75,588.05 L494.74,587.85 L496.74,587.64 L498.73,587.44 L500.73,587.23 L502.72,587.03 L504.71,586.82 L506.71,586.61 L508.70,586.40 L510.70,586.19 L512.69,585.98 L514.68,585.77 L516.68,585.56 L518.67,585.34 L520.67,585.13 L522.66,584.91 L524.65,584.69 L526.65,584.47 L528.64,584.25 L530.64,584.03 L532.63,583.81 L534.62,583.59 L536.62,583.37 L538.61,583.15 L540.61,582.92 L542.60,582.70 L878.00,582.70 L878.00,622.31 L878.00,622.31 L838.66,630.35 L782.72,640.86 L726.78,650.25 L670.84,658.54 L614.90,665.73 L558.96,671.81 L503.02,676.79 L447.08,680.66 L391.14,683.43 L335.20,685.09 L293.00,685.62 L74.00,687.00 L74.00,686.00 L82.67,684.53 L88.14,683.07 L92.03,681.60 L95.39,680.13 L98.80,678.67 L102.17,677.20 L105.41,675.73 L108.47,674.27 L111.26,672.80 L113.71,671.33 L115.77,669.87 L117.51,668.40 L119.07,666.93 L120.47,665.47 L121.76,664.00 L122.97,662.53 L124.15,661.07 L125.32,659.60 L126.45,658.13 L127.53,656.67 L128.56,655.20 L129.56,653.73 L130.53,652.27 L131.49,650.80 L132.42,649.33 L133.34,647.87 L134.23,646.40 L135.09,644.93 L135.94,643.47 L136.78,642.00 L137.60,640.53 L138.42,639.07 L139.22,637.60 L140.02,636.13 L140.80,634.67 L141.57,633.20 L142.33,631.73 L143.07,630.27 L143.80,628.80 Z" fill="#d1dce7"/>
<path d="M111.44,521 V687 M167.38,521 V687 M223.32,521 V687 M279.26,521 V687 M335.20,521 V687 M391.14,521 V687 M447.08,521 V687 M503.02,521 V687 M558.96,521 V687 M614.90,521 V687 M670.84,521 V687 M726.78,521 V687 M782.72,521 V687 M838.66,521 V687 M894.60,521 V687 M950.54,521 V687 M56,645.38 H958 M56,603.75 H958 M56,562.12 H958" stroke="#bfc3c7" stroke-width="1.3" fill="none" opacity="0.65"/>
<path d="M55.50,644.10 L57.50,643.88 L59.49,643.65 L61.49,643.43 L63.49,643.21 L65.48,642.98 L67.48,642.76 L69.47,642.54 L71.47,642.31 L73.47,642.09 L75.46,641.86 L77.46,641.64 L79.46,641.42 L81.45,641.19 L83.45,640.97 L85.44,640.75 L87.44,640.53 L89.44,640.30 L91.43,640.08 L93.43,639.86 L95.43,639.63 L97.42,639.41 L99.42,639.19 L101.42,638.97 L103.41,638.74 L105.41,638.52 L107.40,638.30 L109.40,638.08 L111.40,637.85 L113.39,637.63 L115.39,637.41 L117.39,637.19 L119.38,636.97 L121.38,636.75 L123.37,636.52 L125.37,636.30 L127.37,636.08 L129.36,635.86 L131.36,635.64 L133.36,635.42 L135.35,635.20 L137.35,634.98 L139.35,634.76 L141.34,634.54 L143.34,634.32 L145.33,634.10 L147.33,633.88 L149.33,633.66 L151.32,633.44 L153.32,633.22 L155.32,633.00 L157.31,632.78 L159.31,632.57 L161.30,632.35 L163.30,632.13 L165.30,631.91 L167.29,631.69 L169.29,631.48 L171.29,631.26 L173.28,631.04 L175.28,630.83 L177.28,630.61 L179.27,630.39 L181.27,630.18 L183.26,629.96 L185.26,629.75 L187.26,629.53 L189.25,629.32 L191.25,629.10 L193.25,628.89 L195.24,628.67 L197.24,628.46 L199.23,628.25 L201.23,628.03 L203.23,627.82 L205.22,627.61 L207.22,627.39 L209.22,627.18 L211.21,626.97 L213.21,626.76 L215.20,626.54 L217.20,626.33 L219.20,626.12 L221.19,625.91 L223.19,625.70 L225.19,625.49 L227.18,625.28 L229.18,625.07 L231.18,624.86 L233.17,624.65 L235.17,624.44 L237.16,624.23 L239.16,624.02 L241.16,623.81 L243.15,623.60 L245.15,623.39 L247.15,623.19 L249.14,622.98 L251.14,622.77 L253.13,622.56 L255.13,622.36 L257.13,622.15 L259.12,621.94 L261.12,621.74 L263.12,621.53 L265.11,621.33 L267.11,621.12 L269.11,620.92 L271.10,620.71 L273.10,620.51 L275.09,620.30 L277.09,620.10 L279.09,619.90 L281.08,619.69 L283.08,619.49 L285.08,619.29 L287.07,619.08 L289.07,618.88 L291.06,618.68 L293.06,618.48 L295.06,618.28 L297.05,618.08 L299.05,617.87 L301.05,617.67 L303.04,617.47 L305.04,617.27 L307.04,617.07 L309.03,616.87 L311.03,616.68 L313.02,616.48 L315.02,616.28 L317.02,616.08 L319.01,615.88 L321.01,615.68 L323.01,615.49 L325.00,615.29 L327.00,615.09 L328.99,614.90 L330.99,614.70 L332.99,614.50 L334.98,614.31 L336.98,614.11 L338.98,613.92 L340.97,613.72 L342.97,613.53 L344.97,613.33 L346.96,613.14 L348.96,612.95 L350.95,612.75 L352.95,612.56 L354.95,612.37 L356.94,612.17 L358.94,611.98 L360.94,611.79 L362.93,611.60 L364.93,611.41 L366.92,611.22 L368.92,611.03 L370.92,610.84 L372.91,610.65 L374.91,610.46 L376.91,610.27 L378.90,610.08 L380.90,609.89 L382.90,609.70 L384.89,609.51 L386.89,609.33 L388.88,609.14 L390.88,608.95 L392.88,608.76 L394.87,608.58 L396.87,608.39 L398.87,608.21 L400.86,608.02 L402.86,607.83 L404.85,607.65 L406.85,607.47 L408.85,607.28 L410.84,607.10 L412.84,606.91 L414.84,606.73 L416.83,606.55 L418.83,606.36 L420.82,606.18 L422.82,606.00 L424.82,605.82 L426.81,605.64 L428.81,605.45 L430.81,605.27 L432.80,605.09 L434.80,604.91 L436.80,604.73 L438.79,604.55 L440.79,604.37 L442.78,604.19 L444.78,604.01 L446.78,603.83 L448.77,603.65 L450.77,603.47 L452.77,603.30 L454.76,603.12 L456.76,602.94 L458.75,602.76 L460.75,602.58 L462.75,602.41 L464.74,602.23 L466.74,602.05 L468.74,601.87 L470.73,601.70 L472.73,601.52 L474.73,601.34 L476.72,601.17 L478.72,600.99 L480.71,600.81 L482.71,600.64 L484.71,600.46 L486.70,600.29 L488.70,600.11 L490.70,599.94 L492.69,599.76 L494.69,599.59 L496.68,599.41 L498.68,599.23 L500.68,599.06 L502.67,598.88 L504.67,598.71 L506.67,598.54 L508.66,598.36 L510.66,598.19 L512.66,598.01 L514.65,597.84 L516.65,597.66 L518.64,597.49 L520.64,597.31 L522.64,597.14 L524.63,596.97 L526.63,596.79 L528.63,596.62 L530.62,596.44 L532.62,596.27 L534.61,596.10 L536.61,595.92 L538.61,595.75 L540.60,595.57 L542.60,595.40" stroke="#0b4a8d" stroke-width="1" fill="none" stroke-linejoin="round" stroke-linecap="round"/>
<path d="M542.6,595.4 H878" stroke="#7f8fa6" stroke-width="1" fill="none"/>
<path d="M55.50,639.00 L57.49,638.76 L59.48,638.51 L61.46,638.27 L63.45,638.03 L65.44,637.79 L67.43,637.54 L69.42,637.30 L71.40,637.06 L73.39,636.81 L75.38,636.57 L77.37,636.33 L79.36,636.09 L81.35,635.84 L83.33,635.60 L85.32,635.36 L87.31,635.11 L89.30,634.87 L91.29,634.63 L93.27,634.39 L95.26,634.14 L97.25,633.90 L99.24,633.66 L101.23,633.41 L103.21,633.17 L105.20,632.93 L107.19,632.69 L109.18,632.44 L111.17,632.20 L113.15,631.96 L115.14,631.71 L117.13,631.47 L119.12,631.23 L121.11,630.99 L123.10,630.74 L125.08,630.50 L127.07,630.26 L129.06,630.01 L131.05,629.77 L133.04,629.53 L135.02,629.29 L137.01,629.04 L139.00,628.80" stroke="#0b4a8d" stroke-width="1" fill="none" stroke-linejoin="round" stroke-linecap="round"/>
<path d="M139.00,628.80 L141.00,628.56 L143.00,628.31 L144.99,628.07 L146.99,627.82 L148.99,627.58 L150.99,627.33 L152.99,627.09 L154.98,626.85 L156.98,626.60 L158.98,626.36 L160.98,626.11 L162.98,625.87 L164.97,625.62 L166.97,625.37 L168.97,625.13 L170.97,624.88 L172.97,624.63 L174.96,624.39 L176.96,624.14 L178.96,623.89 L180.96,623.64 L182.96,623.39 L184.95,623.15 L186.95,622.90 L188.95,622.65 L190.95,622.40 L192.95,622.15 L194.94,621.90 L196.94,621.65 L198.94,621.40 L200.94,621.15 L202.94,620.90 L204.93,620.65 L206.93,620.39 L208.93,620.14 L210.93,619.89 L212.93,619.64 L214.92,619.39 L216.92,619.14 L218.92,618.89 L220.92,618.64 L222.92,618.38 L224.91,618.13 L226.91,617.88 L228.91,617.63 L230.91,617.38 L232.91,617.13 L234.90,616.87 L236.90,616.62 L238.90,616.37 L240.90,616.12 L242.90,615.87 L244.90,615.62 L246.89,615.37 L248.89,615.11 L250.89,614.86 L252.89,614.61 L254.89,614.36 L256.88,614.11 L258.88,613.86 L260.88,613.61 L262.88,613.36 L264.88,613.11 L266.87,612.86 L268.87,612.61 L270.87,612.36 L272.87,612.11 L274.87,611.86 L276.86,611.62 L278.86,611.37 L280.86,611.12 L282.86,610.87 L284.86,610.63 L286.85,610.38 L288.85,610.13 L290.85,609.89 L292.85,609.64 L294.85,609.39 L296.84,609.15 L298.84,608.90 L300.84,608.66 L302.84,608.42 L304.84,608.17 L306.83,607.93 L308.83,607.69 L310.83,607.45 L312.83,607.20 L314.83,606.96 L316.82,606.72 L318.82,606.48 L320.82,606.24 L322.82,606.00 L324.82,605.76 L326.81,605.53 L328.81,605.29 L330.81,605.05 L332.81,604.82 L334.81,604.58 L336.80,604.35 L338.80,604.11 L340.80,603.88 L342.80,603.65 L344.80,603.41 L346.79,603.18 L348.79,602.95 L350.79,602.72 L352.79,602.49 L354.79,602.26 L356.78,602.03 L358.78,601.81 L360.78,601.58 L362.78,601.35 L364.78,601.13 L366.77,600.90 L368.77,600.68 L370.77,600.46 L372.77,600.24 L374.77,600.01 L376.76,599.79 L378.76,599.58 L380.76,599.36 L382.76,599.14 L384.76,598.92 L386.75,598.71 L388.75,598.49 L390.75,598.28 L392.75,598.06 L394.75,597.85 L396.74,597.64 L398.74,597.43 L400.74,597.22 L402.74,597.01 L404.74,596.81 L406.73,596.60 L408.73,596.40 L410.73,596.19 L412.73,595.99 L414.73,595.78 L416.72,595.58 L418.72,595.38 L420.72,595.18 L422.72,594.98 L424.72,594.78 L426.71,594.58 L428.71,594.38 L430.71,594.18 L432.71,593.99 L434.71,593.79 L436.70,593.59 L438.70,593.39 L440.70,593.20 L442.70,593.00 L444.70,592.80 L446.70,592.61 L448.69,592.41 L450.69,592.22 L452.69,592.02 L454.69,591.83 L456.69,591.63 L458.68,591.43 L460.68,591.24 L462.68,591.04 L464.68,590.85 L466.68,590.65 L468.67,590.45 L470.67,590.26 L472.67,590.06 L474.67,589.86 L476.67,589.66 L478.66,589.47 L480.66,589.27 L482.66,589.07 L484.66,588.87 L486.66,588.67 L488.65,588.47 L490.65,588.26 L492.65,588.06 L494.65,587.86 L496.65,587.65 L498.64,587.45 L500.64,587.24 L502.64,587.04 L504.64,586.83 L506.64,586.62 L508.63,586.41 L510.63,586.20 L512.63,585.99 L514.63,585.78 L516.63,585.56 L518.62,585.35 L520.62,585.13 L522.62,584.92 L524.62,584.70 L526.62,584.48 L528.61,584.26 L530.61,584.04 L532.61,583.81 L534.61,583.59 L536.61,583.37 L538.60,583.15 L540.60,582.92 L542.60,582.70 L878,582.7" stroke="#0b4a8d" stroke-width="2.2" fill="none" stroke-linejoin="round" stroke-linecap="round"/>
<path d="M55.50,650.20 L57.46,650.02 L59.42,649.84 L61.38,649.65 L63.35,649.47 L65.31,649.29 L67.27,649.11 L69.23,648.92 L71.19,648.74 L73.15,648.56 L75.12,648.37 L77.08,648.19 L79.04,648.01 L81.00,647.82 L82.96,647.64 L84.92,647.46 L86.88,647.27 L88.85,647.09 L90.81,646.90 L92.77,646.72 L94.73,646.53 L96.69,646.34 L98.65,646.16 L100.62,645.97 L102.58,645.78 L104.54,645.59 L106.50,645.41 L108.46,645.22 L110.42,645.03 L112.38,644.84 L114.35,644.65 L116.31,644.45 L118.27,644.26 L120.23,644.07 L122.19,643.88 L124.15,643.68 L126.12,643.49 L128.08,643.29 L130.04,643.10 L132.00,642.90" stroke="#0b4a8d" stroke-width="1" fill="none" stroke-linejoin="round" stroke-linecap="round"/>
<path d="M132.00,642.90 L134.00,642.70 L136.00,642.50 L138.00,642.29 L140.00,642.09 L142.00,641.89 L144.00,641.68 L146.00,641.48 L148.00,641.27 L150.00,641.07 L152.00,640.86 L154.00,640.65 L156.00,640.45 L158.00,640.24 L160.00,640.03 L162.00,639.83 L164.00,639.62 L166.00,639.41 L168.00,639.21 L170.00,639.00 L172.00,638.79 L174.00,638.59 L176.00,638.38 L178.00,638.18 L180.00,637.97 L182.00,637.77 L184.00,637.56 L186.00,637.36 L188.00,637.15 L190.00,636.95 L192.00,636.75 L194.00,636.54 L196.00,636.34 L198.00,636.14 L200.00,635.94 L202.00,635.73 L204.00,635.53 L206.00,635.33 L208.00,635.13 L210.00,634.93 L212.00,634.73 L214.00,634.53 L216.00,634.32 L218.00,634.12 L220.00,633.92 L222.00,633.72 L224.00,633.53 L226.00,633.33 L228.00,633.13 L230.00,632.93 L232.00,632.73 L234.00,632.53 L236.00,632.33 L238.00,632.14 L240.00,631.94 L242.00,631.74 L244.00,631.54 L246.00,631.35 L248.00,631.15 L250.00,630.95 L252.00,630.76 L254.00,630.56 L256.00,630.37 L258.00,630.17 L260.00,629.98 L262.00,629.78 L264.00,629.59 L266.00,629.39 L268.00,629.20 L270.00,629.00 L272.00,628.81 L274.00,628.62 L276.00,628.42 L278.00,628.23 L280.00,628.04 L282.00,627.85 L284.00,627.65 L286.00,627.46 L288.00,627.27 L290.00,627.08 L292.00,626.89 L294.00,626.70 L296.00,626.50 L298.00,626.31 L300.00,626.12 L302.00,625.93 L304.00,625.74 L306.00,625.55 L308.00,625.37 L310.00,625.18 L312.00,624.99 L314.00,624.80 L316.00,624.61 L318.00,624.42 L320.00,624.23 L322.00,624.05 L324.00,623.86 L326.00,623.67 L328.00,623.48 L330.00,623.30 L332.00,623.11 L334.00,622.92 L336.00,622.74 L338.00,622.55 L340.00,622.37 L342.00,622.18 L344.00,622.00 L346.00,621.81 L348.00,621.63 L350.00,621.44 L352.00,621.26 L354.00,621.07 L356.00,620.89 L358.00,620.70 L360.00,620.52 L362.00,620.34 L364.00,620.16 L366.00,619.97 L368.00,619.79 L370.00,619.61 L372.00,619.43 L374.00,619.24 L376.00,619.06 L378.00,618.88 L380.00,618.70 L382.00,618.52 L384.00,618.34 L386.00,618.16 L388.00,617.98 L390.00,617.80 L392.00,617.62 L394.00,617.44 L396.00,617.26 L398.00,617.08 L400.00,616.90 L402.00,616.72 L404.00,616.54 L406.00,616.36 L408.00,616.19 L410.00,616.01 L412.00,615.83 L414.00,615.65 L416.00,615.48 L418.00,615.30 L420.00,615.12 L422.00,614.95 L424.00,614.77 L426.00,614.59 L428.00,614.42 L430.00,614.24 L432.00,614.07 L434.00,613.89 L436.00,613.72 L438.00,613.54 L440.00,613.37 L442.00,613.19 L444.00,613.02 L446.00,612.85 L448.00,612.67 L450.00,612.50 L452.00,612.33 L454.00,612.15 L456.00,611.98 L458.00,611.81 L460.00,611.64 L462.00,611.47 L464.00,611.30 L466.00,611.12 L468.00,610.95 L470.00,610.78 L472.00,610.61 L474.00,610.44 L476.00,610.27 L478.00,610.10 L480.00,609.93 L482.00,609.76 L484.00,609.60 L486.00,609.43 L488.00,609.26 L490.00,609.09 L492.00,608.92 L494.00,608.76 L496.00,608.59 L498.00,608.42 L500.00,608.25 L502.00,608.09 L504.00,607.92 L506.00,607.76 L508.00,607.59 L510.00,607.43 L512.00,607.26 L514.00,607.10 L516.00,606.93 L518.00,606.77 L520.00,606.60 L522.00,606.44 L524.00,606.28 L526.00,606.11 L528.00,605.95 L530.00,605.79 L532.00,605.63 L534.00,605.47 L536.00,605.30 L538.00,605.14 L540.00,604.98 L542.00,604.82 L544.00,604.66 L546.00,604.50 L548.00,604.34 L550.00,604.18 L552.00,604.02 L554.00,603.86 L556.00,603.71 L558.00,603.55 L560.00,603.39 L562.00,603.23 L564.00,603.08 L566.00,602.92 L568.00,602.76 L570.00,602.61 L572.00,602.45 L574.00,602.29 L576.00,602.14 L578.00,601.98 L580.00,601.83 L582.00,601.67 L584.00,601.52 L586.00,601.37 L588.00,601.21 L590.00,601.06 L592.00,600.91 L594.00,600.76 L596.00,600.60 L598.00,600.45 L600.00,600.30 L602.00,600.15 L604.00,600.00 L606.00,599.85 L608.00,599.70 L610.00,599.55 L612.00,599.40 L614.00,599.25 L616.00,599.10 L618.00,598.95 L620.00,598.80 L622.00,598.66 L624.00,598.51 L626.00,598.36 L628.00,598.22 L630.00,598.07 L632.00,597.92 L634.00,597.78 L636.00,597.63 L638.00,597.49 L640.00,597.35 L642.00,597.20 L644.00,597.06 L646.00,596.92 L648.00,596.77 L650.00,596.63 L652.00,596.49 L654.00,596.35 L656.00,596.21 L658.00,596.07 L660.00,595.93 L662.00,595.79 L664.00,595.65 L666.00,595.51 L668.00,595.37 L670.00,595.24 L672.00,595.10 L674.00,594.96 L676.00,594.83 L678.00,594.69 L680.00,594.55 L682.00,594.42 L684.00,594.29 L686.00,594.15 L688.00,594.02 L690.00,593.89 L692.00,593.75 L694.00,593.62 L696.00,593.49 L698.00,593.36 L700.00,593.23 L702.00,593.10 L704.00,592.97 L706.00,592.84 L708.00,592.71 L710.00,592.58 L712.00,592.46 L714.00,592.33 L716.00,592.20 L718.00,592.08 L720.00,591.95 L722.00,591.83 L724.00,591.71 L726.00,591.58 L728.00,591.46 L730.00,591.34 L732.00,591.22 L734.00,591.09 L736.00,590.97 L738.00,590.85 L740.00,590.74 L742.00,590.62 L744.00,590.50 L746.00,590.38 L748.00,590.26 L750.00,590.15 L752.00,590.03 L754.00,589.92 L756.00,589.80 L758.00,589.69 L760.00,589.57 L762.00,589.46 L764.00,589.35 L766.00,589.24 L768.00,589.13 L770.00,589.02 L772.00,588.91 L774.00,588.80 L776.00,588.69 L778.00,588.58 L780.00,588.48 L782.00,588.37 L784.00,588.26 L786.00,588.16 L788.00,588.05 L790.00,587.95 L792.00,587.84 L794.00,587.74 L796.00,587.64 L798.00,587.54 L800.00,587.43 L802.00,587.33 L804.00,587.23 L806.00,587.13 L808.00,587.03 L810.00,586.93 L812.00,586.83 L814.00,586.73 L816.00,586.63 L818.00,586.54 L820.00,586.44 L822.00,586.34 L824.00,586.24 L826.00,586.15 L828.00,586.05 L830.00,585.95 L832.00,585.86 L834.00,585.76 L836.00,585.67 L838.00,585.57 L840.00,585.48 L842.00,585.38 L844.00,585.29 L846.00,585.19 L848.00,585.10 L850.00,585.00 L852.00,584.91 L854.00,584.82 L856.00,584.72 L858.00,584.63 L860.00,584.54 L862.00,584.44 L864.00,584.35 L866.00,584.26 L868.00,584.16 L870.00,584.07 L872.00,583.98 L874.00,583.89 L876.00,583.79 L878.00,583.70" stroke="#0b4a8d" stroke-width="3.2" fill="none" stroke-linejoin="round" stroke-linecap="round"/>
<path d="M55.50,654.80 L57.46,654.62 L59.42,654.44 L61.38,654.26 L63.35,654.08 L65.31,653.91 L67.27,653.73 L69.23,653.55 L71.19,653.37 L73.15,653.19 L75.12,653.01 L77.08,652.83 L79.04,652.65 L81.00,652.47 L82.96,652.29 L84.92,652.12 L86.88,651.94 L88.85,651.76 L90.81,651.58 L92.77,651.40 L94.73,651.22 L96.69,651.04 L98.65,650.86 L100.62,650.68 L102.58,650.50 L104.54,650.32 L106.50,650.14 L108.46,649.96 L110.42,649.78 L112.38,649.60 L114.35,649.42 L116.31,649.24 L118.27,649.06 L120.23,648.88 L122.19,648.70 L124.15,648.52 L126.12,648.34 L128.08,648.16 L130.04,647.98 L132.00,647.80" stroke="#0b4a8d" stroke-width="1" fill="none" stroke-linejoin="round" stroke-linecap="round"/>
<path d="M132.00,647.80 L134.00,647.62 L136.00,647.43 L138.00,647.25 L140.00,647.06 L142.00,646.88 L144.00,646.69 L146.00,646.51 L148.00,646.32 L150.00,646.14 L152.00,645.96 L154.00,645.77 L156.00,645.59 L158.00,645.40 L160.00,645.22 L162.00,645.03 L164.00,644.85 L166.00,644.67 L168.00,644.48 L170.00,644.30 L172.00,644.12 L174.00,643.93 L176.00,643.75 L178.00,643.57 L180.00,643.39 L182.00,643.20 L184.00,643.02 L186.00,642.84 L188.00,642.66 L190.00,642.48 L192.00,642.30 L194.00,642.12 L196.00,641.94 L198.00,641.76 L200.00,641.58 L202.00,641.40 L204.00,641.22 L206.00,641.04 L208.00,640.86 L210.00,640.68 L212.00,640.50 L214.00,640.32 L216.00,640.14 L218.00,639.97 L220.00,639.79 L222.00,639.61 L224.00,639.43 L226.00,639.26 L228.00,639.08 L230.00,638.90 L232.00,638.72 L234.00,638.55 L236.00,638.37 L238.00,638.20 L240.00,638.02 L242.00,637.85 L244.00,637.67 L246.00,637.50 L248.00,637.32 L250.00,637.15 L252.00,636.97 L254.00,636.80 L256.00,636.62 L258.00,636.45 L260.00,636.28 L262.00,636.10 L264.00,635.93 L266.00,635.76 L268.00,635.58 L270.00,635.41 L272.00,635.24 L274.00,635.07 L276.00,634.90 L278.00,634.72 L280.00,634.55 L282.00,634.38 L284.00,634.21 L286.00,634.04 L288.00,633.87 L290.00,633.70 L292.00,633.53 L294.00,633.36 L296.00,633.19 L298.00,633.02 L300.00,632.85 L302.00,632.68 L304.00,632.52 L306.00,632.35 L308.00,632.18 L310.00,632.01 L312.00,631.84 L314.00,631.68 L316.00,631.51 L318.00,631.34 L320.00,631.18 L322.00,631.01 L324.00,630.84 L326.00,630.68 L328.00,630.51 L330.00,630.35 L332.00,630.18 L334.00,630.02 L336.00,629.85 L338.00,629.69 L340.00,629.52 L342.00,629.36 L344.00,629.19 L346.00,629.03 L348.00,628.87 L350.00,628.70 L352.00,628.54 L354.00,628.38 L356.00,628.22 L358.00,628.05 L360.00,627.89 L362.00,627.73 L364.00,627.57 L366.00,627.41 L368.00,627.25 L370.00,627.08 L372.00,626.92 L374.00,626.76 L376.00,626.60 L378.00,626.44 L380.00,626.28 L382.00,626.12 L384.00,625.97 L386.00,625.81 L388.00,625.65 L390.00,625.49 L392.00,625.33 L394.00,625.17 L396.00,625.01 L398.00,624.86 L400.00,624.70 L402.00,624.54 L404.00,624.39 L406.00,624.23 L408.00,624.07 L410.00,623.92 L412.00,623.76 L414.00,623.61 L416.00,623.45 L418.00,623.30 L420.00,623.14 L422.00,622.99 L424.00,622.83 L426.00,622.68 L428.00,622.52 L430.00,622.37 L432.00,622.22 L434.00,622.06 L436.00,621.91 L438.00,621.76 L440.00,621.61 L442.00,621.46 L444.00,621.30 L446.00,621.15 L448.00,621.00 L450.00,620.85 L452.00,620.70 L454.00,620.55 L456.00,620.40 L458.00,620.25 L460.00,620.10 L462.00,619.95 L464.00,619.81 L466.00,619.66 L468.00,619.51 L470.00,619.36 L472.00,619.22 L474.00,619.07 L476.00,618.92 L478.00,618.78 L480.00,618.63 L482.00,618.49 L484.00,618.34 L486.00,618.20 L488.00,618.05 L490.00,617.91 L492.00,617.76 L494.00,617.62 L496.00,617.48 L498.00,617.33 L500.00,617.19 L502.00,617.05 L504.00,616.91 L506.00,616.77 L508.00,616.63 L510.00,616.49 L512.00,616.35 L514.00,616.21 L516.00,616.07 L518.00,615.93 L520.00,615.79 L522.00,615.65 L524.00,615.52 L526.00,615.38 L528.00,615.24 L530.00,615.10 L532.00,614.97 L534.00,614.83 L536.00,614.70 L538.00,614.56 L540.00,614.43 L542.00,614.29 L544.00,614.16 L546.00,614.03 L548.00,613.89 L550.00,613.76 L552.00,613.63 L554.00,613.50 L556.00,613.37 L558.00,613.24 L560.00,613.11 L562.00,612.98 L564.00,612.85 L566.00,612.72 L568.00,612.59 L570.00,612.46 L572.00,612.34 L574.00,612.21 L576.00,612.08 L578.00,611.96 L580.00,611.83 L582.00,611.71 L584.00,611.58 L586.00,611.46 L588.00,611.33 L590.00,611.21 L592.00,611.09 L594.00,610.96 L596.00,610.84 L598.00,610.72 L600.00,610.60 L602.00,610.48 L604.00,610.36 L606.00,610.24 L608.00,610.12 L610.00,610.00 L612.00,609.89 L614.00,609.77 L616.00,609.65 L618.00,609.53 L620.00,609.42 L622.00,609.30 L624.00,609.19 L626.00,609.07 L628.00,608.96 L630.00,608.84 L632.00,608.73 L634.00,608.62 L636.00,608.50 L638.00,608.39 L640.00,608.28 L642.00,608.17 L644.00,608.06 L646.00,607.95 L648.00,607.84 L650.00,607.73 L652.00,607.62 L654.00,607.51 L656.00,607.40 L658.00,607.29 L660.00,607.18 L662.00,607.07 L664.00,606.97 L666.00,606.86 L668.00,606.75 L670.00,606.65 L672.00,606.54 L674.00,606.43 L676.00,606.33 L678.00,606.22 L680.00,606.12 L682.00,606.01 L684.00,605.91 L686.00,605.80 L688.00,605.70 L690.00,605.60 L692.00,605.49 L694.00,605.39 L696.00,605.29 L698.00,605.19 L700.00,605.08 L702.00,604.98 L704.00,604.88 L706.00,604.78 L708.00,604.68 L710.00,604.58 L712.00,604.48 L714.00,604.37 L716.00,604.27 L718.00,604.17 L720.00,604.07 L722.00,603.97 L724.00,603.88 L726.00,603.78 L728.00,603.68 L730.00,603.58 L732.00,603.48 L734.00,603.38 L736.00,603.28 L738.00,603.18 L740.00,603.09 L742.00,602.99 L744.00,602.89 L746.00,602.79 L748.00,602.69 L750.00,602.60 L752.00,602.50 L754.00,602.40 L756.00,602.30 L758.00,602.21 L760.00,602.11 L762.00,602.01 L764.00,601.92 L766.00,601.82 L768.00,601.72 L770.00,601.63 L772.00,601.53 L774.00,601.44 L776.00,601.34 L778.00,601.24 L780.00,601.15 L782.00,601.05 L784.00,600.95 L786.00,600.86 L788.00,600.76 L790.00,600.67 L792.00,600.57 L794.00,600.48 L796.00,600.38 L798.00,600.29 L800.00,600.19 L802.00,600.09 L804.00,600.00 L806.00,599.90 L808.00,599.81 L810.00,599.71 L812.00,599.62 L814.00,599.52 L816.00,599.43 L818.00,599.33 L820.00,599.24 L822.00,599.14 L824.00,599.05 L826.00,598.95 L828.00,598.86 L830.00,598.77 L832.00,598.67 L834.00,598.58 L836.00,598.48 L838.00,598.39 L840.00,598.29 L842.00,598.20 L844.00,598.10 L846.00,598.01 L848.00,597.91 L850.00,597.82 L852.00,597.73 L854.00,597.63 L856.00,597.54 L858.00,597.44 L860.00,597.35 L862.00,597.25 L864.00,597.16 L866.00,597.07 L868.00,596.97 L870.00,596.88 L872.00,596.78 L874.00,596.69 L876.00,596.59 L878.00,596.50" stroke="#0b4a8d" stroke-width="2.2" fill="none" stroke-linejoin="round" stroke-linecap="round"/>
<path d="M55.5,663.5 L139,662.9" stroke="#000" stroke-width="1" fill="none" shape-rendering="crispEdges"/>
<path d="M139.00,662.49 L142.99,662.46 L146.99,662.42 L150.98,662.39 L154.98,662.35 L158.97,662.32 L162.97,662.28 L166.96,662.25 L170.96,662.21 L174.95,662.17 L178.95,662.14 L182.94,662.10 L186.94,662.06 L190.93,662.02 L194.92,661.99 L198.92,661.95 L202.91,661.91 L206.91,661.87 L210.90,661.83 L214.90,661.79 L218.89,661.75 L222.89,661.71 L226.88,661.67 L230.88,661.63 L234.87,661.59 L238.86,661.55 L242.86,661.50 L246.85,661.46 L250.85,661.42 L254.84,661.38 L258.84,661.33 L262.83,661.29 L266.83,661.25 L270.82,661.20 L274.82,661.16 L278.81,661.12 L282.81,661.07 L286.80,661.03 L290.79,660.98 L294.79,660.93 L298.78,660.89 L302.78,660.84 L306.77,660.80 L310.77,660.75 L314.76,660.70 L318.76,660.66 L322.75,660.61 L326.75,660.56 L330.74,660.51 L334.74,660.46 L338.73,660.41 L342.72,660.37 L346.72,660.32 L350.71,660.27 L354.71,660.22 L358.70,660.17 L362.70,660.12 L366.69,660.07 L370.69,660.01 L374.68,659.96 L378.68,659.91 L382.67,659.86 L386.66,659.81 L390.66,659.75 L394.65,659.70 L398.65,659.65 L402.64,659.60 L406.64,659.54 L410.63,659.49 L414.63,659.43 L418.62,659.38 L422.62,659.32 L426.61,659.27 L430.61,659.21 L434.60,659.16 L438.59,659.10 L442.59,659.04 L446.58,658.99 L450.58,658.93 L454.57,658.87 L458.57,658.82 L462.56,658.76 L466.56,658.70 L470.55,658.64 L474.55,658.58 L478.54,658.52 L482.54,658.47 L486.53,658.41 L490.52,658.35 L494.52,658.29 L498.51,658.23 L502.51,658.16 L506.50,658.10 L510.50,658.04 L514.49,657.98 L518.49,657.92 L522.48,657.86 L526.48,657.79 L530.47,657.73 L534.46,657.67 L538.46,657.60 L542.45,657.54 L546.45,657.48 L550.44,657.41 L554.44,657.35 L558.43,657.28 L562.43,657.22 L566.42,657.15 L570.42,657.09 L574.41,657.02 L578.41,656.95 L582.40,656.89 L586.39,656.82 L590.39,656.75 L594.38,656.69 L598.38,656.62 L602.37,656.55 L606.37,656.48 L610.36,656.41 L614.36,656.34 L618.35,656.28 L622.35,656.21 L626.34,656.14 L630.34,656.07 L634.33,656.00 L638.32,655.93 L642.32,655.85 L646.31,655.78 L650.31,655.71 L654.30,655.64 L658.30,655.57 L662.29,655.49 L666.29,655.42 L670.28,655.35 L674.28,655.28 L678.27,655.20 L682.26,655.13 L686.26,655.05 L690.25,654.98 L694.25,654.90 L698.24,654.83 L702.24,654.75 L706.23,654.68 L710.23,654.60 L714.22,654.53 L718.22,654.45 L722.21,654.37 L726.21,654.30 L730.20,654.22 L734.19,654.14 L738.19,654.06 L742.18,653.98 L746.18,653.91 L750.17,653.83 L754.17,653.75 L758.16,653.67 L762.16,653.59 L766.15,653.51 L770.15,653.43 L774.14,653.35 L778.14,653.27 L782.13,653.19 L786.12,653.10 L790.12,653.02 L794.11,652.94 L798.11,652.86 L802.10,652.77 L806.10,652.69 L810.09,652.61 L814.09,652.52 L818.08,652.44 L822.08,652.36 L826.07,652.27 L830.06,652.19 L834.06,652.10 L838.05,652.02 L842.05,651.93 L846.04,651.85 L850.04,651.76 L854.03,651.67 L858.03,651.59 L862.02,651.50 L866.02,651.41 L870.01,651.32 L874.01,651.24 L878.00,651.15" stroke="#000" stroke-width="2" fill="none" stroke-linejoin="round" stroke-linecap="round"/>
<path d="M55.5,667.5 L132,667.0" stroke="#000" stroke-width="1" fill="none" shape-rendering="crispEdges"/>
<path d="M132.00,666.88 L135.99,666.85 L139.98,666.83 L143.97,666.80 L147.96,666.77 L151.95,666.74 L155.94,666.72 L159.93,666.69 L163.91,666.66 L167.90,666.62 L171.89,666.59 L175.88,666.56 L179.87,666.53 L183.86,666.49 L187.85,666.46 L191.84,666.42 L195.83,666.39 L199.82,666.35 L203.81,666.32 L207.80,666.28 L211.79,666.24 L215.78,666.20 L219.76,666.16 L223.75,666.12 L227.74,666.08 L231.73,666.04 L235.72,666.00 L239.71,665.96 L243.70,665.91 L247.69,665.87 L251.68,665.82 L255.67,665.78 L259.66,665.73 L263.65,665.69 L267.64,665.64 L271.63,665.59 L275.61,665.54 L279.60,665.49 L283.59,665.44 L287.58,665.39 L291.57,665.34 L295.56,665.29 L299.55,665.24 L303.54,665.18 L307.53,665.13 L311.52,665.08 L315.51,665.02 L319.50,664.97 L323.49,664.91 L327.48,664.85 L331.47,664.79 L335.45,664.74 L339.44,664.68 L343.43,664.62 L347.42,664.56 L351.41,664.50 L355.40,664.44 L359.39,664.37 L363.38,664.31 L367.37,664.25 L371.36,664.18 L375.35,664.12 L379.34,664.05 L383.33,663.99 L387.32,663.92 L391.30,663.85 L395.29,663.79 L399.28,663.72 L403.27,663.65 L407.26,663.58 L411.25,663.51 L415.24,663.44 L419.23,663.36 L423.22,663.29 L427.21,663.22 L431.20,663.14 L435.19,663.07 L439.18,662.99 L443.17,662.92 L447.16,662.84 L451.14,662.77 L455.13,662.69 L459.12,662.61 L463.11,662.53 L467.10,662.45 L471.09,662.37 L475.08,662.29 L479.07,662.21 L483.06,662.13 L487.05,662.04 L491.04,661.96 L495.03,661.88 L499.02,661.79 L503.01,661.70 L506.99,661.62 L510.98,661.53 L514.97,661.44 L518.96,661.36 L522.95,661.27 L526.94,661.18 L530.93,661.09 L534.92,661.00 L538.91,660.91 L542.90,660.81 L546.89,660.72 L550.88,660.63 L554.87,660.53 L558.86,660.44 L562.84,660.34 L566.83,660.25 L570.82,660.15 L574.81,660.06 L578.80,659.96 L582.79,659.86 L586.78,659.76 L590.77,659.66 L594.76,659.56 L598.75,659.46 L602.74,659.36 L606.73,659.25 L610.72,659.15 L614.71,659.05 L618.70,658.94 L622.68,658.84 L626.67,658.73 L630.66,658.63 L634.65,658.52 L638.64,658.41 L642.63,658.30 L646.62,658.20 L650.61,658.09 L654.60,657.98 L658.59,657.87 L662.58,657.75 L666.57,657.64 L670.56,657.53 L674.55,657.42 L678.53,657.30 L682.52,657.19 L686.51,657.07 L690.50,656.96 L694.49,656.84 L698.48,656.72 L702.47,656.60 L706.46,656.49 L710.45,656.37 L714.44,656.25 L718.43,656.13 L722.42,656.01 L726.41,655.88 L730.40,655.76 L734.39,655.64 L738.37,655.51 L742.36,655.39 L746.35,655.26 L750.34,655.14 L754.33,655.01 L758.32,654.89 L762.31,654.76 L766.30,654.63 L770.29,654.50 L774.28,654.37 L778.27,654.24 L782.26,654.11 L786.25,653.98 L790.24,653.85 L794.22,653.71 L798.21,653.58 L802.20,653.45 L806.19,653.31 L810.18,653.18 L814.17,653.04 L818.16,652.90 L822.15,652.77 L826.14,652.63 L830.13,652.49 L834.12,652.35 L838.11,652.21 L842.10,652.07 L846.09,651.93 L850.07,651.79 L854.06,651.64 L858.05,651.50 L862.04,651.36 L866.03,651.21 L870.02,651.07 L874.01,650.92 L878.00,650.77" stroke="#000" stroke-width="3.4" fill="none" stroke-linejoin="round" stroke-linecap="round"/>
<path d="M55.5,684.1 H74" stroke="#0b4a8d" stroke-width="1" fill="none"/>
<path d="M74,684.3 H293" stroke="#0b4a8d" stroke-width="2" fill="none"/>
<path d="M55.5,686.2 H74" stroke="#000" stroke-width="1" fill="none"/>
<path d="M74,686 H293" stroke="#000" stroke-width="1.6" fill="none"/>
<path d="M55.5,520 V688" stroke="#000" stroke-width="1.5" fill="none"/>
<path d="M55,520.5 H959" stroke="#000" stroke-width="1" fill="none"/>
<path d="M55,687.5 H959" stroke="#888" stroke-width="1" fill="none"/>
<path d="M959,520 V688" stroke="#000" stroke-width="2" fill="none"/>
<path d="M48,687.5 H55 M48,645.5 H55 M48,603.5 H55 M48,562.5 H55 M960,687.5 H966 M960,666.5 H966 M960,645.5 H966 M960,624.5 H966 M960,603.5 H966 M960,582.5 H966 M960,562.5 H966 M960,541.5 H966" stroke="#000" stroke-width="1" fill="none"/>
<circle cx="768.67" cy="589.1" r="6.3" fill="#ff0000"/>
<circle cx="768.67" cy="601.7" r="6.3" fill="#ff0000"/>
<circle cx="768.67" cy="654.2" r="6.3" fill="#ff0000"/>
<text x="746.92" y="18.75" font-family="Liberation Sans" font-size="17" fill="#000" textLength="190.84" lengthAdjust="spacingAndGlyphs">NKE 40-200/198, 3*400 V</text>
<text x="28.35" y="14.90" font-family="Liberation Sans" font-size="17" fill="#000" textLength="12.90" lengthAdjust="spacingAndGlyphs">H</text>
<text x="22.09" y="35.20" font-family="Liberation Sans" font-size="17" fill="#000" textLength="23.82" lengthAdjust="spacingAndGlyphs">[m]</text>
<text x="32.90" y="395.00" font-family="Liberation Sans" font-size="17" fill="#000">0</text>
<text x="32.90" y="356.00" font-family="Liberation Sans" font-size="17" fill="#000">2</text>
<text x="32.90" y="317.00" font-family="Liberation Sans" font-size="17" fill="#000">4</text>
<text x="32.90" y="278.00" font-family="Liberation Sans" font-size="17" fill="#000">6</text>
<text x="32.90" y="239.00" font-family="Liberation Sans" font-size="17" fill="#000">8</text>
<text x="24.64" y="200.00" font-family="Liberation Sans" font-size="17" fill="#000" textLength="18.14" lengthAdjust="spacingAndGlyphs">10</text>
<text x="24.64" y="161.00" font-family="Liberation Sans" font-size="17" fill="#000" textLength="18.14" lengthAdjust="spacingAndGlyphs">12</text>
<text x="24.69" y="122.00" font-family="Liberation Sans" font-size="17" fill="#000" textLength="17.13" lengthAdjust="spacingAndGlyphs">14</text>
<text x="24.64" y="83.00" font-family="Liberation Sans" font-size="17" fill="#000" textLength="18.14" lengthAdjust="spacingAndGlyphs">16</text>
<text x="50.20" y="413.00" font-family="Liberation Sans" font-size="17" fill="#000">0</text>
<text x="106.14" y="413.00" font-family="Liberation Sans" font-size="17" fill="#000">2</text>
<text x="162.58" y="413.00" font-family="Liberation Sans" font-size="17" fill="#000">4</text>
<text x="218.02" y="413.00" font-family="Liberation Sans" font-size="17" fill="#000">6</text>
<text x="273.96" y="413.00" font-family="Liberation Sans" font-size="17" fill="#000">8</text>
<text x="325.79" y="413.00" font-family="Liberation Sans" font-size="17" fill="#000" textLength="18.14" lengthAdjust="spacingAndGlyphs">10</text>
<text x="381.73" y="413.00" font-family="Liberation Sans" font-size="17" fill="#000" textLength="18.14" lengthAdjust="spacingAndGlyphs">12</text>
<text x="437.72" y="413.00" font-family="Liberation Sans" font-size="17" fill="#000" textLength="17.13" lengthAdjust="spacingAndGlyphs">14</text>
<text x="493.61" y="413.00" font-family="Liberation Sans" font-size="17" fill="#000" textLength="18.14" lengthAdjust="spacingAndGlyphs">16</text>
<text x="549.55" y="413.00" font-family="Liberation Sans" font-size="17" fill="#000" textLength="18.14" lengthAdjust="spacingAndGlyphs">18</text>
<text x="605.49" y="413.00" font-family="Liberation Sans" font-size="17" fill="#000" textLength="18.14" lengthAdjust="spacingAndGlyphs">20</text>
<text x="661.43" y="413.00" font-family="Liberation Sans" font-size="17" fill="#000" textLength="18.14" lengthAdjust="spacingAndGlyphs">22</text>
<text x="717.42" y="413.00" font-family="Liberation Sans" font-size="17" fill="#000" textLength="17.13" lengthAdjust="spacingAndGlyphs">24</text>
<text x="773.31" y="413.00" font-family="Liberation Sans" font-size="17" fill="#000" textLength="18.14" lengthAdjust="spacingAndGlyphs">26</text>
<text x="829.25" y="413.00" font-family="Liberation Sans" font-size="17" fill="#000" textLength="18.14" lengthAdjust="spacingAndGlyphs">28</text>
<text x="887.37" y="412.80" font-family="Liberation Sans" font-size="17" fill="#000" textLength="63.18" lengthAdjust="spacingAndGlyphs">Q [m³/h]</text>
<text x="970.20" y="395.10" font-family="Liberation Sans" font-size="17" fill="#000">0</text>
<text x="970.17" y="356.10" font-family="Liberation Sans" font-size="17" fill="#000" textLength="19.48" lengthAdjust="spacingAndGlyphs">20</text>
<text x="971.20" y="317.10" font-family="Liberation Sans" font-size="17" fill="#000" textLength="18.40" lengthAdjust="spacingAndGlyphs">40</text>
<text x="970.17" y="278.10" font-family="Liberation Sans" font-size="17" fill="#000" textLength="19.48" lengthAdjust="spacingAndGlyphs">60</text>
<text x="970.17" y="239.10" font-family="Liberation Sans" font-size="17" fill="#000" textLength="19.48" lengthAdjust="spacingAndGlyphs">80</text>
<text x="971.15" y="200.10" font-family="Liberation Sans" font-size="17" fill="#000" textLength="27.01" lengthAdjust="spacingAndGlyphs">100</text>
<text x="968.83" y="14.50" font-family="Liberation Sans" font-size="17" fill="#000" textLength="22.92" lengthAdjust="spacingAndGlyphs">eta</text>
<text x="968.15" y="35.20" font-family="Liberation Sans" font-size="17" fill="#000" textLength="25.90" lengthAdjust="spacingAndGlyphs">[%]</text>
<text x="298.00" y="83.40" font-family="Liberation Sans" font-size="17" fill="#000" textLength="46.85" lengthAdjust="spacingAndGlyphs">110 %</text>
<text x="286.34" y="133.20" font-family="Liberation Sans" font-size="17" fill="#000" textLength="46.05" lengthAdjust="spacingAndGlyphs">100 %</text>
<text x="116.10" y="364.00" font-family="Liberation Sans" font-size="17" fill="#000" textLength="38.65" lengthAdjust="spacingAndGlyphs">25 %</text>
<text x="57.20" y="445.60" font-family="Liberation Sans" font-size="17" fill="#000" textLength="104.62" lengthAdjust="spacingAndGlyphs">Q = 25.5 m³/h</text>
<text x="57.51" y="467.00" font-family="Liberation Sans" font-size="17" fill="#000" textLength="161.71" lengthAdjust="spacingAndGlyphs">n = 101 % / 1451 rpm</text>
<text x="58.00" y="488.60" font-family="Liberation Sans" font-size="17" fill="#000" textLength="330.03" lengthAdjust="spacingAndGlyphs">Liquid temperature during operation = 20 °C</text>
<text x="58.02" y="509.80" font-family="Liberation Sans" font-size="17" fill="#000" textLength="142.16" lengthAdjust="spacingAndGlyphs">Eta pump = 67.8 %</text>
<text x="443.21" y="445.60" font-family="Liberation Sans" font-size="17" fill="#000" textLength="82.91" lengthAdjust="spacingAndGlyphs">H = 10.1 m</text>
<text x="443.21" y="467.00" font-family="Liberation Sans" font-size="17" fill="#000" textLength="170.02" lengthAdjust="spacingAndGlyphs">Pumped liquid = Water</text>
<text x="443.20" y="488.60" font-family="Liberation Sans" font-size="17" fill="#000" textLength="166.53" lengthAdjust="spacingAndGlyphs">Density = 998.2 kg/m³</text>
<text x="443.21" y="509.80" font-family="Liberation Sans" font-size="17" fill="#000" textLength="311.26" lengthAdjust="spacingAndGlyphs">Eta pump+motor+freq.converter = 59.5 %</text>
<text x="21.62" y="534.70" font-family="Liberation Sans" font-size="17" fill="#000" textLength="11.12" lengthAdjust="spacingAndGlyphs">P</text>
<text x="14.14" y="554.60" font-family="Liberation Sans" font-size="17" fill="#000" textLength="27.05" lengthAdjust="spacingAndGlyphs">[W]</text>
<text x="32.70" y="691.00" font-family="Liberation Sans" font-size="17" fill="#000">0</text>
<text x="14.53" y="651.20" font-family="Liberation Sans" font-size="17" fill="#000" textLength="27.53" lengthAdjust="spacingAndGlyphs">500</text>
<text x="6.45" y="608.90" font-family="Liberation Sans" font-size="17" fill="#000" textLength="36.04" lengthAdjust="spacingAndGlyphs">1000</text>
<text x="967.51" y="534.80" font-family="Liberation Sans" font-size="17" fill="#000" textLength="46.81" lengthAdjust="spacingAndGlyphs">NPSH</text>
<text x="977.96" y="555.30" font-family="Liberation Sans" font-size="17" fill="#000" textLength="24.58" lengthAdjust="spacingAndGlyphs">[m]</text>
<text x="970.27" y="691.60" font-family="Liberation Sans" font-size="17" fill="#000" textLength="24.39" lengthAdjust="spacingAndGlyphs">0.0</text>
<text x="970.27" y="670.79" font-family="Liberation Sans" font-size="17" fill="#000" textLength="24.39" lengthAdjust="spacingAndGlyphs">0.5</text>
<text x="971.53" y="649.98" font-family="Liberation Sans" font-size="17" fill="#000" textLength="22.89" lengthAdjust="spacingAndGlyphs">1.0</text>
<text x="971.53" y="629.16" font-family="Liberation Sans" font-size="17" fill="#000" textLength="22.89" lengthAdjust="spacingAndGlyphs">1.5</text>
<text x="970.27" y="608.35" font-family="Liberation Sans" font-size="17" fill="#000" textLength="24.39" lengthAdjust="spacingAndGlyphs">2.0</text>
<text x="970.27" y="587.54" font-family="Liberation Sans" font-size="17" fill="#000" textLength="24.39" lengthAdjust="spacingAndGlyphs">2.5</text>
<text x="751.20" y="571.80" font-family="Liberation Sans" font-size="17" fill="#1f5696" textLength="195.72" lengthAdjust="spacingAndGlyphs">P1 (motor+freq.converter)</text>
<text x="865.00" y="610.80" font-family="Liberation Sans" font-size="17" fill="#1f5696" textLength="20.80" lengthAdjust="spacingAndGlyphs">P2</text>
<text x="58.10" y="716.00" font-family="Liberation Sans" font-size="17" fill="#000" textLength="272.51" lengthAdjust="spacingAndGlyphs">P1 (motor+freq.converter) = 1177 W</text>
<text x="58.12" y="737.60" font-family="Liberation Sans" font-size="17" fill="#000" textLength="96.35" lengthAdjust="spacingAndGlyphs">P2 = 1033 W</text>
<text x="58.12" y="758.80" font-family="Liberation Sans" font-size="17" fill="#000" textLength="116.75" lengthAdjust="spacingAndGlyphs">NPSH = 0.79 m</text>
</svg>
</body></html>
